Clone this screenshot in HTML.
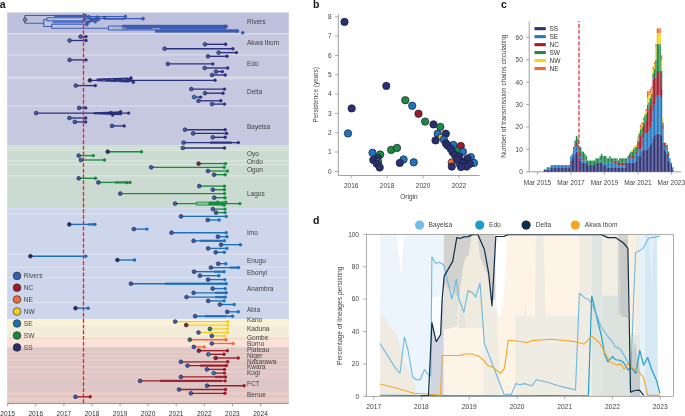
<!DOCTYPE html>
<html><head><meta charset="utf-8"><style>
html,body{margin:0;padding:0;background:#fff;width:685px;height:416px;overflow:hidden}
svg{display:block;will-change:transform;font-family:"Liberation Sans", sans-serif}
</style></head><body>
<svg width="685" height="416" viewBox="0 0 685 416">
<rect width="685" height="416" fill="#fff"/>
<rect x="7.2" y="12.5" width="281.6" height="21.10" fill="#bcc0dc"/>
<rect x="7.2" y="33.6" width="281.6" height="111.90" fill="#c6c8df"/>
<rect x="7.2" y="145.5" width="281.6" height="62.70" fill="#cbdbd1"/>
<rect x="7.2" y="208.2" width="281.6" height="111.10" fill="#cdd6ea"/>
<rect x="7.2" y="319.3" width="281.6" height="5.90" fill="#faf2d4"/>
<rect x="7.2" y="325.2" width="281.6" height="12.00" fill="#f2ecd9"/>
<rect x="7.2" y="337.2" width="281.6" height="10.80" fill="#f6dad0"/>
<rect x="7.2" y="348.0" width="281.6" height="55.20" fill="#ddc8c7"/>
<rect x="7.2" y="76.2" width="281.6" height="3.2" fill="#ffffff" opacity="0.28"/>
<rect x="7.2" y="33.3" width="281.6" height="1.2" fill="#ffffff" opacity="0.35"/>
<rect x="7.2" y="54.2" width="281.6" height="1.2" fill="#ffffff" opacity="0.35"/>
<rect x="7.2" y="105.4" width="281.6" height="1.2" fill="#ffffff" opacity="0.35"/>
<rect x="7.2" y="147.4" width="281.6" height="1.2" fill="#ffffff" opacity="0.35"/>
<rect x="7.2" y="149.7" width="281.6" height="1.2" fill="#ffffff" opacity="0.35"/>
<rect x="7.2" y="160.4" width="281.6" height="1.2" fill="#ffffff" opacity="0.35"/>
<rect x="7.2" y="163.9" width="281.6" height="1.2" fill="#ffffff" opacity="0.35"/>
<rect x="7.2" y="175.2" width="281.6" height="1.2" fill="#ffffff" opacity="0.35"/>
<rect x="7.2" y="213.2" width="281.6" height="1.2" fill="#ffffff" opacity="0.35"/>
<rect x="7.2" y="253.6" width="281.6" height="1.2" fill="#ffffff" opacity="0.35"/>
<rect x="7.2" y="266.5" width="281.6" height="1.2" fill="#ffffff" opacity="0.35"/>
<rect x="7.2" y="276.9" width="281.6" height="1.2" fill="#ffffff" opacity="0.35"/>
<rect x="7.2" y="301.8" width="281.6" height="1.2" fill="#ffffff" opacity="0.35"/>
<rect x="7.2" y="339.5" width="281.6" height="7" fill="#fae4da"/>
<rect x="7.2" y="347.6" width="281.6" height="0.9" fill="#d9c9c6"/>
<rect x="7.2" y="351.6" width="281.6" height="1.4" fill="#ebcdc8"/>
<rect x="7.2" y="355.2" width="281.6" height="1.7" fill="#ebcdc8"/>
<rect x="7.2" y="359.4" width="281.6" height="1.6" fill="#ebcdc8"/>
<rect x="7.2" y="366.0" width="281.6" height="1.8" fill="#ebcdc8"/>
<rect x="7.2" y="371.1" width="281.6" height="1.7" fill="#ebcdc8"/>
<rect x="7.2" y="375.4" width="281.6" height="1.2" fill="#ebcdc8"/>
<rect x="7.2" y="392.2" width="281.6" height="2.6" fill="#ebcdc8"/>
<rect x="7.2" y="397.5" width="281.6" height="3.8" fill="#ebcdc8"/>
<g stroke="#3d5db5" stroke-width="1.1" fill="none">
<path d="M24.8 15.5V23.2M24.8 15.5H86M24.8 23.2H43.7M43.7 19.5V26.5M43.7 19.5H46.8M46.8 17.7V20.8M46.8 17.7H86M46.8 20.8H86M43.7 26.5H51.6M51.6 24.3V28.2M51.6 24.3H86M51.6 28.2H108.5M108.5 26V30M108.5 26H122M108.5 30H155"/>
<path d="M86 16.6H125.3M86 18.6H143"/>
<path d="M104.8 16.6V19.2H125"/>
</g>
<rect x="54.2" y="14.9" width="30" height="2.3" fill="#3d5db5"/>
<rect x="52.5" y="20.3" width="31" height="3.1" fill="#5676c4"/>
<rect x="122" y="24.8" width="104" height="4.6" fill="#3d5db5"/>
<rect x="155" y="29.3" width="82.4" height="3.3" fill="#3d5db5"/>
<rect x="112" y="27.6" width="14" height="1" fill="#9aaad8"/>
<rect x="152" y="28.2" width="8" height="1" fill="#9aaad8"/>
<circle cx="85.2" cy="15.6" r="1.7" fill="#3d5db5" stroke="#2c3f86" stroke-width="0.4"/>
<circle cx="89" cy="17" r="1.7" fill="#3d5db5" stroke="#2c3f86" stroke-width="0.4"/>
<circle cx="87.6" cy="22.3" r="1.8" fill="#3d5db5" stroke="#2c3f86" stroke-width="0.4"/>
<circle cx="86.7" cy="24.3" r="1.7" fill="#3d5db5" stroke="#2c3f86" stroke-width="0.4"/>
<circle cx="92.5" cy="19.6" r="1.8" fill="#3d5db5" stroke="#2c3f86" stroke-width="0.4"/>
<circle cx="95.2" cy="21.4" r="1.8" fill="#3d5db5" stroke="#2c3f86" stroke-width="0.4"/>
<circle cx="97.2" cy="17.6" r="1.8" fill="#3d5db5" stroke="#2c3f86" stroke-width="0.4"/>
<circle cx="98.1" cy="19.4" r="1.7" fill="#3d5db5" stroke="#2c3f86" stroke-width="0.4"/>
<circle cx="90.5" cy="20.8" r="1.6" fill="#3d5db5" stroke="#2c3f86" stroke-width="0.4"/>
<circle cx="84.5" cy="19.5" r="1.5" fill="#3d5db5" stroke="#2c3f86" stroke-width="0.4"/>
<circle cx="104.8" cy="17.6" r="1.3" fill="#3d5db5" stroke="#2c3f86" stroke-width="0.4"/>
<circle cx="125.3" cy="16.6" r="1.5" fill="#3d5db5" stroke="#2c3f86" stroke-width="0.4"/>
<circle cx="143" cy="18.7" r="1.6" fill="#3d5db5" stroke="#2c3f86" stroke-width="0.4"/>
<circle cx="226" cy="26.5" r="1.7" fill="#3d5db5" stroke="#2c3f86" stroke-width="0.4"/>
<circle cx="237.4" cy="31" r="1.6" fill="#3d5db5" stroke="#2c3f86" stroke-width="0.4"/>
<circle cx="242.7" cy="32.8" r="1.5" fill="#3d5db5" stroke="#2c3f86" stroke-width="0.4"/>
<circle cx="25.1" cy="19.7" r="1.8" fill="#8a8a8a" stroke="#222" stroke-width="0.6"/>
<line x1="80.6" y1="36.6" x2="86" y2="36.6" stroke="#2b3080" stroke-width="1.35"/>
<line x1="69.6" y1="40.5" x2="86" y2="40.5" stroke="#2b3080" stroke-width="1.35"/>
<line x1="205" y1="44.3" x2="225.6" y2="44.3" stroke="#2b3080" stroke-width="1.35"/>
<line x1="164.6" y1="48.7" x2="232.9" y2="48.7" stroke="#2b3080" stroke-width="1.35"/>
<line x1="218.6" y1="52.6" x2="236.4" y2="52.6" stroke="#2b3080" stroke-width="1.35"/>
<line x1="208" y1="56.3" x2="227" y2="56.3" stroke="#2b3080" stroke-width="1.35"/>
<line x1="69.6" y1="59.9" x2="86" y2="59.9" stroke="#2b3080" stroke-width="1.35"/>
<line x1="167.8" y1="63.9" x2="212.8" y2="63.9" stroke="#2b3080" stroke-width="1.35"/>
<line x1="204.7" y1="68" x2="227.7" y2="68" stroke="#2b3080" stroke-width="1.35"/>
<line x1="216" y1="71.6" x2="222.3" y2="71.6" stroke="#2b3080" stroke-width="1.35"/>
<line x1="212" y1="75" x2="225.2" y2="75" stroke="#2b3080" stroke-width="1.35"/>
<line x1="89.9" y1="80.3" x2="215" y2="80.3" stroke="#2b3080" stroke-width="1.35"/>
<line x1="75.8" y1="85.6" x2="95.3" y2="85.6" stroke="#2b3080" stroke-width="1.35"/>
<line x1="191.3" y1="89.1" x2="224.5" y2="89.1" stroke="#2b3080" stroke-width="1.35"/>
<line x1="205" y1="93.2" x2="223" y2="93.2" stroke="#2b3080" stroke-width="1.35"/>
<line x1="194.1" y1="97.1" x2="200.7" y2="97.1" stroke="#2b3080" stroke-width="1.35"/>
<line x1="198.5" y1="100.8" x2="220.8" y2="100.8" stroke="#2b3080" stroke-width="1.35"/>
<line x1="212" y1="104.1" x2="224.5" y2="104.1" stroke="#2b3080" stroke-width="1.35"/>
<line x1="79.2" y1="107.9" x2="85.7" y2="107.9" stroke="#2b3080" stroke-width="1.35"/>
<line x1="36.1" y1="113.1" x2="128.6" y2="113.1" stroke="#2b3080" stroke-width="1.35"/>
<line x1="69.4" y1="118" x2="85.7" y2="118" stroke="#2b3080" stroke-width="1.35"/>
<line x1="74.8" y1="121.9" x2="85.7" y2="121.9" stroke="#2b3080" stroke-width="1.35"/>
<line x1="112" y1="125.9" x2="124.2" y2="125.9" stroke="#2b3080" stroke-width="1.35"/>
<line x1="185" y1="129.7" x2="225.2" y2="129.7" stroke="#2b3080" stroke-width="1.35"/>
<line x1="193.1" y1="133.4" x2="226.6" y2="133.4" stroke="#2b3080" stroke-width="1.35"/>
<line x1="212.8" y1="137.3" x2="225.2" y2="137.3" stroke="#2b3080" stroke-width="1.35"/>
<line x1="183.6" y1="142.6" x2="238.3" y2="142.6" stroke="#2b3080" stroke-width="1.35"/>
<rect x="210" y="141.45" width="22" height="2.3" fill="#2b3080" opacity="0.85"/>
<line x1="182.8" y1="148" x2="224.5" y2="148" stroke="#2b3080" stroke-width="1.35"/>
<line x1="107.7" y1="151.7" x2="141.5" y2="151.7" stroke="#1a8a40" stroke-width="1.35"/>
<line x1="78.7" y1="155.6" x2="93.3" y2="155.6" stroke="#1a8a40" stroke-width="1.35"/>
<line x1="80.9" y1="160" x2="104.5" y2="160" stroke="#1a8a40" stroke-width="1.35"/>
<line x1="198.6" y1="163.6" x2="225.6" y2="163.6" stroke="#1a8a40" stroke-width="1.35"/>
<line x1="151.2" y1="167.3" x2="224.2" y2="167.3" stroke="#1a8a40" stroke-width="1.35"/>
<line x1="208" y1="171" x2="227.4" y2="171" stroke="#1a8a40" stroke-width="1.35"/>
<line x1="214" y1="174.7" x2="225.2" y2="174.7" stroke="#1a8a40" stroke-width="1.35"/>
<line x1="78.7" y1="178.3" x2="95.5" y2="178.3" stroke="#1a8a40" stroke-width="1.35"/>
<line x1="98.4" y1="182.4" x2="130" y2="182.4" stroke="#1a8a40" stroke-width="1.35"/>
<rect x="115" y="181.25" width="13" height="2.3" fill="#1a8a40" opacity="0.85"/>
<line x1="199.3" y1="186.1" x2="224.5" y2="186.1" stroke="#1a8a40" stroke-width="1.35"/>
<line x1="212.8" y1="189.7" x2="224.5" y2="189.7" stroke="#1a8a40" stroke-width="1.35"/>
<line x1="120.3" y1="193.6" x2="224.5" y2="193.6" stroke="#1a8a40" stroke-width="1.35"/>
<line x1="214.2" y1="197.7" x2="225" y2="197.7" stroke="#1a8a40" stroke-width="1.35"/>
<line x1="175.1" y1="203.6" x2="239.8" y2="203.6" stroke="#1a8a40" stroke-width="1.35"/>
<line x1="212.8" y1="209.1" x2="225" y2="209.1" stroke="#1a8a40" stroke-width="1.35"/>
<line x1="216" y1="212.6" x2="225" y2="212.6" stroke="#1a8a40" stroke-width="1.35"/>
<line x1="181" y1="216.4" x2="226.2" y2="216.4" stroke="#1b70b8" stroke-width="1.35"/>
<line x1="207.7" y1="220" x2="219.2" y2="220" stroke="#1b70b8" stroke-width="1.35"/>
<line x1="69.3" y1="224.4" x2="94.9" y2="224.4" stroke="#1b70b8" stroke-width="1.35"/>
<rect x="88" y="223.25" width="7" height="2.3" fill="#1b70b8" opacity="0.85"/>
<line x1="133.8" y1="229.1" x2="146.9" y2="229.1" stroke="#1b70b8" stroke-width="1.35"/>
<line x1="171.5" y1="232.7" x2="226.2" y2="232.7" stroke="#1b70b8" stroke-width="1.35"/>
<line x1="217.9" y1="236.7" x2="226.9" y2="236.7" stroke="#1b70b8" stroke-width="1.35"/>
<line x1="193.6" y1="240.8" x2="224.3" y2="240.8" stroke="#1b70b8" stroke-width="1.35"/>
<rect x="200" y="239.65" width="22" height="2.3" fill="#1b70b8" opacity="0.85"/>
<line x1="221.1" y1="244.7" x2="240.4" y2="244.7" stroke="#1b70b8" stroke-width="1.35"/>
<line x1="208.2" y1="248.4" x2="226.9" y2="248.4" stroke="#1b70b8" stroke-width="1.35"/>
<line x1="215.7" y1="252.3" x2="224.3" y2="252.3" stroke="#1b70b8" stroke-width="1.35"/>
<line x1="30.4" y1="256.2" x2="85.8" y2="256.2" stroke="#1b70b8" stroke-width="1.35"/>
<line x1="117.4" y1="260" x2="134.5" y2="260" stroke="#1b70b8" stroke-width="1.35"/>
<line x1="218.2" y1="263.7" x2="225.8" y2="263.7" stroke="#1b70b8" stroke-width="1.35"/>
<line x1="210.9" y1="267.6" x2="238.6" y2="267.6" stroke="#1b70b8" stroke-width="1.35"/>
<rect x="230" y="266.45" width="8" height="2.3" fill="#1b70b8" opacity="0.85"/>
<line x1="194.1" y1="271.7" x2="224" y2="271.7" stroke="#1b70b8" stroke-width="1.35"/>
<rect x="214" y="270.55" width="8" height="2.3" fill="#1b70b8" opacity="0.85"/>
<line x1="199.9" y1="275.7" x2="218.9" y2="275.7" stroke="#1b70b8" stroke-width="1.35"/>
<line x1="208" y1="279.6" x2="224.7" y2="279.6" stroke="#1b70b8" stroke-width="1.35"/>
<line x1="130.9" y1="283.7" x2="226.2" y2="283.7" stroke="#1b70b8" stroke-width="1.35"/>
<rect x="165" y="282.55" width="61" height="2.3" fill="#1b70b8" opacity="0.85"/>
<line x1="212.6" y1="288.6" x2="225.2" y2="288.6" stroke="#1b70b8" stroke-width="1.35"/>
<line x1="193.6" y1="292.8" x2="226.2" y2="292.8" stroke="#1b70b8" stroke-width="1.35"/>
<rect x="215" y="291.65" width="10" height="2.3" fill="#1b70b8" opacity="0.85"/>
<line x1="186.5" y1="297.1" x2="225.2" y2="297.1" stroke="#1b70b8" stroke-width="1.35"/>
<rect x="215" y="295.95" width="10" height="2.3" fill="#1b70b8" opacity="0.85"/>
<line x1="208.2" y1="300.9" x2="224" y2="300.9" stroke="#1b70b8" stroke-width="1.35"/>
<line x1="219.9" y1="304.5" x2="234.2" y2="304.5" stroke="#1b70b8" stroke-width="1.35"/>
<line x1="75.5" y1="308.2" x2="88.2" y2="308.2" stroke="#1b70b8" stroke-width="1.35"/>
<line x1="227.2" y1="311.8" x2="238.3" y2="311.8" stroke="#1b70b8" stroke-width="1.35"/>
<line x1="195.1" y1="316.2" x2="232.5" y2="316.2" stroke="#1b70b8" stroke-width="1.35"/>
<rect x="205" y="315.05" width="21" height="2.3" fill="#1b70b8" opacity="0.85"/>
<line x1="175.2" y1="321.6" x2="227.9" y2="321.6" stroke="#f4cf1c" stroke-width="1.35"/>
<line x1="186.2" y1="325.1" x2="227.4" y2="325.1" stroke="#f4cf1c" stroke-width="1.35"/>
<line x1="209.9" y1="328.9" x2="227.4" y2="328.9" stroke="#f4cf1c" stroke-width="1.35"/>
<line x1="198.5" y1="332.5" x2="227.4" y2="332.5" stroke="#f4cf1c" stroke-width="1.35"/>
<line x1="211.8" y1="335.9" x2="224.5" y2="335.9" stroke="#f4cf1c" stroke-width="1.35"/>
<line x1="189.8" y1="339.7" x2="226" y2="339.7" stroke="#ef6d37" stroke-width="1.35"/>
<line x1="211.8" y1="343.5" x2="233.1" y2="343.5" stroke="#ef6d37" stroke-width="1.35"/>
<line x1="193.8" y1="346.9" x2="204.2" y2="346.9" stroke="#ef6d37" stroke-width="1.35"/>
<line x1="198.9" y1="350.7" x2="227.4" y2="350.7" stroke="#9c1c2c" stroke-width="1.35"/>
<line x1="208.4" y1="354.3" x2="224" y2="354.3" stroke="#9c1c2c" stroke-width="1.35"/>
<line x1="215.6" y1="358" x2="238.2" y2="358" stroke="#9c1c2c" stroke-width="1.35"/>
<line x1="180.9" y1="361.8" x2="227.7" y2="361.8" stroke="#9c1c2c" stroke-width="1.35"/>
<line x1="187.5" y1="365.6" x2="226.4" y2="365.6" stroke="#9c1c2c" stroke-width="1.35"/>
<rect x="200" y="364.45" width="26" height="2.3" fill="#9c1c2c" opacity="0.85"/>
<line x1="206.9" y1="369.4" x2="224.5" y2="369.4" stroke="#9c1c2c" stroke-width="1.35"/>
<line x1="213.7" y1="373.1" x2="224.5" y2="373.1" stroke="#9c1c2c" stroke-width="1.35"/>
<line x1="180.9" y1="376.9" x2="225.5" y2="376.9" stroke="#9c1c2c" stroke-width="1.35"/>
<rect x="215" y="375.75" width="10" height="2.3" fill="#9c1c2c" opacity="0.85"/>
<line x1="140.1" y1="380.9" x2="225.1" y2="380.9" stroke="#9c1c2c" stroke-width="1.35"/>
<rect x="160" y="379.75" width="62" height="2.3" fill="#9c1c2c" opacity="0.85"/>
<line x1="207.1" y1="385.7" x2="244.1" y2="385.7" stroke="#9c1c2c" stroke-width="1.35"/>
<line x1="179" y1="389.5" x2="225.5" y2="389.5" stroke="#9c1c2c" stroke-width="1.35"/>
<line x1="190.9" y1="393.3" x2="224.9" y2="393.3" stroke="#9c1c2c" stroke-width="1.35"/>
<line x1="75.5" y1="396.8" x2="90.2" y2="396.8" stroke="#9c1c2c" stroke-width="1.35"/>
<polygon points="96.5,78.4 128,77.6 134,80.8 128,82.5 96.5,81.2" fill="#2b3080"/>
<polygon points="93.7,112.2 122,111.3 122,115.2 93.7,114.3" fill="#2b3080"/>
<ellipse cx="104" cy="80.6" rx="1.6" ry="0.5" fill="#5b63a6"/>
<ellipse cx="112" cy="79.6" rx="1.6" ry="0.5" fill="#5b63a6"/>
<ellipse cx="118" cy="81.6" rx="1.6" ry="0.5" fill="#5b63a6"/>
<ellipse cx="124" cy="79.2" rx="1.6" ry="0.5" fill="#5b63a6"/>
<rect x="196.3" y="202.1" width="12.6" height="3" fill="#8cc79c" stroke="#1a8a40" stroke-width="0.8"/>
<polygon points="208.9,201.6 226,201.4 226,205.8 208.9,205.6" fill="#1a8a40"/>
<circle cx="217.6" cy="201.9" r="1.4" fill="#1a8a40"/>
<circle cx="224" cy="204.6" r="2.2" fill="#1a8a40"/>
<circle cx="225.8" cy="202.2" r="1.6" fill="#1a8a40"/>
<circle cx="126.9" cy="182.7" r="1.6" fill="#1a8a40"/>
<circle cx="131" cy="77.9" r="1.5" fill="#2b3080" stroke="#1d1f55" stroke-width="0.4"/>
<circle cx="133.3" cy="82" r="1.6" fill="#2b3080" stroke="#1d1f55" stroke-width="0.4"/>
<circle cx="110.8" cy="112.5" r="1.3" fill="#2b3080" stroke="#1d1f55" stroke-width="0.4"/>
<circle cx="112.7" cy="115.2" r="1.3" fill="#2b3080" stroke="#1d1f55" stroke-width="0.4"/>
<circle cx="120.6" cy="111.6" r="1.3" fill="#2b3080" stroke="#1d1f55" stroke-width="0.4"/>
<circle cx="86" cy="36.6" r="1.7" fill="#2b3080"/>
<circle cx="80.6" cy="36.6" r="1.85" fill="#3f60b5" stroke="#26264a" stroke-width="0.75"/>
<circle cx="86" cy="40.5" r="1.7" fill="#2b3080"/>
<circle cx="69.6" cy="40.5" r="1.85" fill="#3f60b5" stroke="#26264a" stroke-width="0.75"/>
<circle cx="225.6" cy="44.3" r="1.7" fill="#2b3080"/>
<circle cx="205" cy="44.3" r="1.85" fill="#3f60b5" stroke="#26264a" stroke-width="0.75"/>
<circle cx="232.9" cy="48.7" r="1.7" fill="#2b3080"/>
<circle cx="164.6" cy="48.7" r="1.85" fill="#3f60b5" stroke="#26264a" stroke-width="0.75"/>
<circle cx="236.4" cy="52.6" r="1.7" fill="#2b3080"/>
<circle cx="218.6" cy="52.6" r="1.85" fill="#3f60b5" stroke="#26264a" stroke-width="0.75"/>
<circle cx="227" cy="56.3" r="1.7" fill="#2b3080"/>
<circle cx="208" cy="56.3" r="1.85" fill="#3f60b5" stroke="#26264a" stroke-width="0.75"/>
<circle cx="86" cy="59.9" r="1.7" fill="#2b3080"/>
<circle cx="69.6" cy="59.9" r="1.85" fill="#3f60b5" stroke="#26264a" stroke-width="0.75"/>
<circle cx="212.8" cy="63.9" r="1.7" fill="#2b3080"/>
<circle cx="167.8" cy="63.9" r="1.85" fill="#3f60b5" stroke="#26264a" stroke-width="0.75"/>
<circle cx="227.7" cy="68" r="1.7" fill="#2b3080"/>
<circle cx="204.7" cy="68" r="1.85" fill="#3f60b5" stroke="#26264a" stroke-width="0.75"/>
<circle cx="222.3" cy="71.6" r="1.7" fill="#2b3080"/>
<circle cx="216" cy="71.6" r="1.85" fill="#3f60b5" stroke="#26264a" stroke-width="0.75"/>
<circle cx="225.2" cy="75" r="1.7" fill="#2b3080"/>
<circle cx="212" cy="75" r="1.85" fill="#3f60b5" stroke="#26264a" stroke-width="0.75"/>
<circle cx="215" cy="80.3" r="1.7" fill="#2b3080"/>
<circle cx="89.9" cy="80.3" r="1.85" fill="#2a2d6c" stroke="#26264a" stroke-width="0.75"/>
<circle cx="95.3" cy="85.6" r="1.7" fill="#2b3080"/>
<circle cx="75.8" cy="85.6" r="1.85" fill="#3f60b5" stroke="#26264a" stroke-width="0.75"/>
<circle cx="224.5" cy="89.1" r="1.7" fill="#2b3080"/>
<circle cx="191.3" cy="89.1" r="1.85" fill="#3f60b5" stroke="#26264a" stroke-width="0.75"/>
<circle cx="223" cy="93.2" r="1.7" fill="#2b3080"/>
<circle cx="205" cy="93.2" r="1.85" fill="#3f60b5" stroke="#26264a" stroke-width="0.75"/>
<circle cx="200.7" cy="97.1" r="1.7" fill="#2b3080"/>
<circle cx="194.1" cy="97.1" r="1.85" fill="#1b8ad0" stroke="#26264a" stroke-width="0.75"/>
<circle cx="220.8" cy="100.8" r="1.7" fill="#2b3080"/>
<circle cx="198.5" cy="100.8" r="1.85" fill="#3f60b5" stroke="#26264a" stroke-width="0.75"/>
<circle cx="224.5" cy="104.1" r="1.7" fill="#2b3080"/>
<circle cx="212" cy="104.1" r="1.85" fill="#3f60b5" stroke="#26264a" stroke-width="0.75"/>
<circle cx="85.7" cy="107.9" r="1.7" fill="#2b3080"/>
<circle cx="79.2" cy="107.9" r="1.85" fill="#3f60b5" stroke="#26264a" stroke-width="0.75"/>
<circle cx="128.6" cy="113.1" r="1.7" fill="#2b3080"/>
<circle cx="36.1" cy="113.1" r="1.85" fill="#3f60b5" stroke="#26264a" stroke-width="0.75"/>
<circle cx="85.7" cy="118" r="1.7" fill="#2b3080"/>
<circle cx="69.4" cy="118" r="1.85" fill="#3f60b5" stroke="#26264a" stroke-width="0.75"/>
<circle cx="85.7" cy="121.9" r="1.7" fill="#2b3080"/>
<circle cx="74.8" cy="121.9" r="1.85" fill="#3f60b5" stroke="#26264a" stroke-width="0.75"/>
<circle cx="124.2" cy="125.9" r="1.7" fill="#2b3080"/>
<circle cx="112" cy="125.9" r="1.85" fill="#3f60b5" stroke="#26264a" stroke-width="0.75"/>
<circle cx="225.2" cy="129.7" r="1.7" fill="#2b3080"/>
<circle cx="185" cy="129.7" r="1.85" fill="#3f60b5" stroke="#26264a" stroke-width="0.75"/>
<circle cx="226.6" cy="133.4" r="1.7" fill="#2b3080"/>
<circle cx="193.1" cy="133.4" r="1.85" fill="#3f60b5" stroke="#26264a" stroke-width="0.75"/>
<circle cx="225.2" cy="137.3" r="1.7" fill="#2b3080"/>
<circle cx="212.8" cy="137.3" r="1.85" fill="#3f60b5" stroke="#26264a" stroke-width="0.75"/>
<circle cx="238.3" cy="142.6" r="1.7" fill="#2b3080"/>
<circle cx="183.6" cy="142.6" r="1.85" fill="#3f60b5" stroke="#26264a" stroke-width="0.75"/>
<circle cx="224.5" cy="148" r="1.7" fill="#2b3080"/>
<circle cx="182.8" cy="148" r="1.85" fill="#3f60b5" stroke="#26264a" stroke-width="0.75"/>
<circle cx="141.5" cy="151.7" r="1.7" fill="#1a8a40"/>
<circle cx="107.7" cy="151.7" r="1.85" fill="#2a2d6c" stroke="#26264a" stroke-width="0.75"/>
<circle cx="93.3" cy="155.6" r="1.7" fill="#1a8a40"/>
<circle cx="78.7" cy="155.6" r="1.85" fill="#3f60b5" stroke="#26264a" stroke-width="0.75"/>
<circle cx="104.5" cy="160" r="1.7" fill="#1a8a40"/>
<circle cx="80.9" cy="160" r="1.85" fill="#3f60b5" stroke="#26264a" stroke-width="0.75"/>
<circle cx="225.6" cy="163.6" r="1.7" fill="#1a8a40"/>
<circle cx="198.6" cy="163.6" r="1.85" fill="#9c1c2c" stroke="#26264a" stroke-width="0.75"/>
<circle cx="224.2" cy="167.3" r="1.7" fill="#1a8a40"/>
<circle cx="151.2" cy="167.3" r="1.85" fill="#3f60b5" stroke="#26264a" stroke-width="0.75"/>
<circle cx="227.4" cy="171" r="1.7" fill="#1a8a40"/>
<circle cx="208" cy="171" r="1.85" fill="#3f60b5" stroke="#26264a" stroke-width="0.75"/>
<circle cx="225.2" cy="174.7" r="1.7" fill="#1a8a40"/>
<circle cx="214" cy="174.7" r="1.85" fill="#3f60b5" stroke="#26264a" stroke-width="0.75"/>
<circle cx="95.5" cy="178.3" r="1.7" fill="#1a8a40"/>
<circle cx="78.7" cy="178.3" r="1.85" fill="#3f60b5" stroke="#26264a" stroke-width="0.75"/>
<circle cx="130" cy="182.4" r="1.7" fill="#1a8a40"/>
<circle cx="98.4" cy="182.4" r="1.85" fill="#3f60b5" stroke="#26264a" stroke-width="0.75"/>
<circle cx="224.5" cy="186.1" r="1.7" fill="#1a8a40"/>
<circle cx="199.3" cy="186.1" r="1.85" fill="#3f60b5" stroke="#26264a" stroke-width="0.75"/>
<circle cx="224.5" cy="189.7" r="1.7" fill="#1a8a40"/>
<circle cx="212.8" cy="189.7" r="1.85" fill="#3f60b5" stroke="#26264a" stroke-width="0.75"/>
<circle cx="224.5" cy="193.6" r="1.7" fill="#1a8a40"/>
<circle cx="120.3" cy="193.6" r="1.85" fill="#3f60b5" stroke="#26264a" stroke-width="0.75"/>
<circle cx="225" cy="197.7" r="1.7" fill="#1a8a40"/>
<circle cx="214.2" cy="197.7" r="1.85" fill="#3f60b5" stroke="#26264a" stroke-width="0.75"/>
<circle cx="239.8" cy="203.6" r="1.7" fill="#1a8a40"/>
<circle cx="175.1" cy="203.6" r="1.85" fill="#3f60b5" stroke="#26264a" stroke-width="0.75"/>
<circle cx="225" cy="209.1" r="1.7" fill="#1a8a40"/>
<circle cx="212.8" cy="209.1" r="1.85" fill="#3f60b5" stroke="#26264a" stroke-width="0.75"/>
<circle cx="225" cy="212.6" r="1.7" fill="#1a8a40"/>
<circle cx="216" cy="212.6" r="1.85" fill="#3f60b5" stroke="#26264a" stroke-width="0.75"/>
<circle cx="226.2" cy="216.4" r="1.7" fill="#1b70b8"/>
<circle cx="181" cy="216.4" r="1.85" fill="#3f60b5" stroke="#26264a" stroke-width="0.75"/>
<circle cx="219.2" cy="220" r="1.7" fill="#1b70b8"/>
<circle cx="207.7" cy="220" r="1.85" fill="#3f60b5" stroke="#26264a" stroke-width="0.75"/>
<circle cx="94.9" cy="224.4" r="1.7" fill="#1b70b8"/>
<circle cx="69.3" cy="224.4" r="1.85" fill="#2a2d6c" stroke="#26264a" stroke-width="0.75"/>
<circle cx="146.9" cy="229.1" r="1.7" fill="#1b70b8"/>
<circle cx="133.8" cy="229.1" r="1.85" fill="#3f60b5" stroke="#26264a" stroke-width="0.75"/>
<circle cx="226.2" cy="232.7" r="1.7" fill="#1b70b8"/>
<circle cx="171.5" cy="232.7" r="1.85" fill="#3f60b5" stroke="#26264a" stroke-width="0.75"/>
<circle cx="226.9" cy="236.7" r="1.7" fill="#1b70b8"/>
<circle cx="217.9" cy="236.7" r="1.85" fill="#3f60b5" stroke="#26264a" stroke-width="0.75"/>
<circle cx="224.3" cy="240.8" r="1.7" fill="#1b70b8"/>
<circle cx="193.6" cy="240.8" r="1.85" fill="#3f60b5" stroke="#26264a" stroke-width="0.75"/>
<circle cx="240.4" cy="244.7" r="1.7" fill="#1b70b8"/>
<circle cx="221.1" cy="244.7" r="1.85" fill="#3f60b5" stroke="#26264a" stroke-width="0.75"/>
<circle cx="226.9" cy="248.4" r="1.7" fill="#1b70b8"/>
<circle cx="208.2" cy="248.4" r="1.85" fill="#3f60b5" stroke="#26264a" stroke-width="0.75"/>
<circle cx="224.3" cy="252.3" r="1.7" fill="#1b70b8"/>
<circle cx="215.7" cy="252.3" r="1.85" fill="#3f60b5" stroke="#26264a" stroke-width="0.75"/>
<circle cx="85.8" cy="256.2" r="1.7" fill="#1b70b8"/>
<circle cx="30.4" cy="256.2" r="1.85" fill="#2a2d6c" stroke="#26264a" stroke-width="0.75"/>
<circle cx="134.5" cy="260" r="1.7" fill="#1b70b8"/>
<circle cx="117.4" cy="260" r="1.85" fill="#2a2d6c" stroke="#26264a" stroke-width="0.75"/>
<circle cx="225.8" cy="263.7" r="1.7" fill="#1b70b8"/>
<circle cx="218.2" cy="263.7" r="1.85" fill="#3f60b5" stroke="#26264a" stroke-width="0.75"/>
<circle cx="238.6" cy="267.6" r="1.7" fill="#1b70b8"/>
<circle cx="210.9" cy="267.6" r="1.85" fill="#3f60b5" stroke="#26264a" stroke-width="0.75"/>
<circle cx="224" cy="271.7" r="1.7" fill="#1b70b8"/>
<circle cx="194.1" cy="271.7" r="1.85" fill="#3f60b5" stroke="#26264a" stroke-width="0.75"/>
<circle cx="218.9" cy="275.7" r="1.7" fill="#1b70b8"/>
<circle cx="199.9" cy="275.7" r="1.85" fill="#3f60b5" stroke="#26264a" stroke-width="0.75"/>
<circle cx="224.7" cy="279.6" r="1.7" fill="#1b70b8"/>
<circle cx="208" cy="279.6" r="1.85" fill="#3f60b5" stroke="#26264a" stroke-width="0.75"/>
<circle cx="226.2" cy="283.7" r="1.7" fill="#1b70b8"/>
<circle cx="130.9" cy="283.7" r="1.85" fill="#3f60b5" stroke="#26264a" stroke-width="0.75"/>
<circle cx="225.2" cy="288.6" r="1.7" fill="#1b70b8"/>
<circle cx="212.6" cy="288.6" r="1.85" fill="#3f60b5" stroke="#26264a" stroke-width="0.75"/>
<circle cx="226.2" cy="292.8" r="1.7" fill="#1b70b8"/>
<circle cx="193.6" cy="292.8" r="1.85" fill="#3f60b5" stroke="#26264a" stroke-width="0.75"/>
<circle cx="225.2" cy="297.1" r="1.7" fill="#1b70b8"/>
<circle cx="186.5" cy="297.1" r="1.85" fill="#3f60b5" stroke="#26264a" stroke-width="0.75"/>
<circle cx="224" cy="300.9" r="1.7" fill="#1b70b8"/>
<circle cx="208.2" cy="300.9" r="1.85" fill="#3f60b5" stroke="#26264a" stroke-width="0.75"/>
<circle cx="234.2" cy="304.5" r="1.7" fill="#1b70b8"/>
<circle cx="219.9" cy="304.5" r="1.85" fill="#3f60b5" stroke="#26264a" stroke-width="0.75"/>
<circle cx="88.2" cy="308.2" r="1.7" fill="#1b70b8"/>
<circle cx="75.5" cy="308.2" r="1.85" fill="#2a2d6c" stroke="#26264a" stroke-width="0.75"/>
<circle cx="238.3" cy="311.8" r="1.7" fill="#1b70b8"/>
<circle cx="227.2" cy="311.8" r="1.85" fill="#3f60b5" stroke="#26264a" stroke-width="0.75"/>
<circle cx="232.5" cy="316.2" r="1.7" fill="#1b70b8"/>
<circle cx="195.1" cy="316.2" r="1.85" fill="#3f60b5" stroke="#26264a" stroke-width="0.75"/>
<circle cx="227.9" cy="321.6" r="1.7" fill="#f4cf1c"/>
<circle cx="175.2" cy="321.6" r="1.85" fill="#3f60b5" stroke="#26264a" stroke-width="0.75"/>
<circle cx="227.4" cy="325.1" r="1.7" fill="#f4cf1c"/>
<circle cx="186.2" cy="325.1" r="1.85" fill="#9c1c2c" stroke="#26264a" stroke-width="0.75"/>
<circle cx="227.4" cy="328.9" r="1.7" fill="#f4cf1c"/>
<circle cx="209.9" cy="328.9" r="1.85" fill="#1a8a40" stroke="#26264a" stroke-width="0.75"/>
<circle cx="227.4" cy="332.5" r="1.7" fill="#f4cf1c"/>
<circle cx="198.5" cy="332.5" r="1.85" fill="#3f60b5" stroke="#26264a" stroke-width="0.75"/>
<circle cx="224.5" cy="335.9" r="1.7" fill="#f4cf1c"/>
<circle cx="211.8" cy="335.9" r="1.85" fill="#3f60b5" stroke="#26264a" stroke-width="0.75"/>
<circle cx="226" cy="339.7" r="1.7" fill="#ef6d37"/>
<circle cx="189.8" cy="339.7" r="1.85" fill="#1a8a40" stroke="#26264a" stroke-width="0.75"/>
<circle cx="233.1" cy="343.5" r="1.7" fill="#ef6d37"/>
<circle cx="211.8" cy="343.5" r="1.85" fill="#3f60b5" stroke="#26264a" stroke-width="0.75"/>
<circle cx="204.2" cy="346.9" r="1.7" fill="#ef6d37"/>
<circle cx="193.8" cy="346.9" r="1.85" fill="#3f60b5" stroke="#26264a" stroke-width="0.75"/>
<circle cx="227.4" cy="350.7" r="1.7" fill="#9c1c2c"/>
<circle cx="198.9" cy="350.7" r="1.85" fill="#9c1c2c" stroke="#26264a" stroke-width="0.75"/>
<circle cx="224" cy="354.3" r="1.7" fill="#9c1c2c"/>
<circle cx="208.4" cy="354.3" r="1.85" fill="#1b8ad0" stroke="#26264a" stroke-width="0.75"/>
<circle cx="238.2" cy="358" r="1.7" fill="#9c1c2c"/>
<circle cx="215.6" cy="358" r="1.85" fill="#9c1c2c" stroke="#26264a" stroke-width="0.75"/>
<circle cx="227.7" cy="361.8" r="1.7" fill="#9c1c2c"/>
<circle cx="180.9" cy="361.8" r="1.85" fill="#3f60b5" stroke="#26264a" stroke-width="0.75"/>
<circle cx="226.4" cy="365.6" r="1.7" fill="#9c1c2c"/>
<circle cx="187.5" cy="365.6" r="1.85" fill="#3f60b5" stroke="#26264a" stroke-width="0.75"/>
<circle cx="224.5" cy="369.4" r="1.7" fill="#9c1c2c"/>
<circle cx="206.9" cy="369.4" r="1.85" fill="#3f60b5" stroke="#26264a" stroke-width="0.75"/>
<circle cx="224.5" cy="373.1" r="1.7" fill="#9c1c2c"/>
<circle cx="213.7" cy="373.1" r="1.85" fill="#1b8ad0" stroke="#26264a" stroke-width="0.75"/>
<circle cx="225.5" cy="376.9" r="1.7" fill="#9c1c2c"/>
<circle cx="180.9" cy="376.9" r="1.85" fill="#3f60b5" stroke="#26264a" stroke-width="0.75"/>
<circle cx="225.1" cy="380.9" r="1.7" fill="#9c1c2c"/>
<circle cx="140.1" cy="380.9" r="1.85" fill="#3f60b5" stroke="#26264a" stroke-width="0.75"/>
<circle cx="244.1" cy="385.7" r="1.7" fill="#9c1c2c"/>
<circle cx="207.1" cy="385.7" r="1.85" fill="#3f60b5" stroke="#26264a" stroke-width="0.75"/>
<circle cx="225.5" cy="389.5" r="1.7" fill="#9c1c2c"/>
<circle cx="179" cy="389.5" r="1.85" fill="#3f60b5" stroke="#26264a" stroke-width="0.75"/>
<circle cx="224.9" cy="393.3" r="1.7" fill="#9c1c2c"/>
<circle cx="190.9" cy="393.3" r="1.85" fill="#3f60b5" stroke="#26264a" stroke-width="0.75"/>
<circle cx="90.2" cy="396.8" r="1.7" fill="#9c1c2c"/>
<circle cx="75.5" cy="396.8" r="1.85" fill="#3f60b5" stroke="#26264a" stroke-width="0.75"/>
<line x1="83.5" y1="12.5" x2="83.5" y2="403.2" stroke="#e8202e" stroke-width="1.3" stroke-dasharray="4.1,1.665" stroke-dashoffset="5.19"/>
<text x="247" y="24.1" font-size="6.5" fill="#404040">Rivers</text>
<text x="247" y="45.2" font-size="6.5" fill="#404040">Akwa Ibom</text>
<text x="247" y="66.1" font-size="6.5" fill="#404040">Edo</text>
<text x="247" y="93.5" font-size="6.5" fill="#404040">Delta</text>
<text x="247" y="129.0" font-size="6.5" fill="#404040">Bayelsa</text>
<text x="247" y="156.2" font-size="6.5" fill="#404040">Oyo</text>
<text x="247" y="164.2" font-size="6.5" fill="#404040">Ondo</text>
<text x="247" y="171.6" font-size="6.5" fill="#404040">Ogun</text>
<text x="247" y="195.9" font-size="6.5" fill="#404040">Lagos</text>
<text x="247" y="234.8" font-size="6.5" fill="#404040">Imo</text>
<text x="247" y="262.7" font-size="6.5" fill="#404040">Enugu</text>
<text x="247" y="274.8" font-size="6.5" fill="#404040">Ebonyi</text>
<text x="247" y="290.6" font-size="6.5" fill="#404040">Anambra</text>
<text x="247" y="311.9" font-size="6.5" fill="#404040">Abia</text>
<text x="247" y="321.6" font-size="6.5" fill="#404040">Kano</text>
<text x="247" y="331.3" font-size="6.5" fill="#404040">Kaduna</text>
<text x="247" y="339.6" font-size="6.5" fill="#404040">Gombe</text>
<text x="247" y="345.8" font-size="6.5" fill="#404040">Borno</text>
<text x="247" y="352.1" font-size="6.5" fill="#404040">Plateau</text>
<text x="247" y="357.7" font-size="6.5" fill="#404040">Niger</text>
<text x="247" y="363.8" font-size="6.5" fill="#404040">Nasarawa</text>
<text x="247" y="369.3" font-size="6.5" fill="#404040">Kwara</text>
<text x="247" y="375.1" font-size="6.5" fill="#404040">Kogi</text>
<text x="247" y="385.7" font-size="6.5" fill="#404040">FCT</text>
<text x="247" y="397.4" font-size="6.5" fill="#404040">Benue</text>
<circle cx="17" cy="275.9" r="3.85" fill="#3d5db5" stroke="#222" stroke-width="0.6"/>
<text x="23.8" y="278.3" font-size="6.6" fill="#444">Rivers</text>
<circle cx="17" cy="287.7" r="3.85" fill="#9c1c2c" stroke="#222" stroke-width="0.6"/>
<text x="23.8" y="290.1" font-size="6.6" fill="#444">NC</text>
<circle cx="17" cy="299.5" r="3.85" fill="#ef6d37" stroke="#222" stroke-width="0.6"/>
<text x="23.8" y="301.9" font-size="6.6" fill="#444">NE</text>
<circle cx="17" cy="311.5" r="3.85" fill="#f4cf1c" stroke="#222" stroke-width="0.6"/>
<text x="23.8" y="313.9" font-size="6.6" fill="#444">NW</text>
<circle cx="17" cy="323.5" r="3.85" fill="#1b70b8" stroke="#222" stroke-width="0.6"/>
<text x="23.8" y="325.9" font-size="6.6" fill="#444">SE</text>
<circle cx="17" cy="335.5" r="3.85" fill="#1a8a40" stroke="#222" stroke-width="0.6"/>
<text x="23.8" y="337.9" font-size="6.6" fill="#444">SW</text>
<circle cx="17" cy="347.4" r="3.85" fill="#2a2d6c" stroke="#222" stroke-width="0.6"/>
<text x="23.8" y="349.8" font-size="6.6" fill="#444">SS</text>
<line x1="7.2" y1="403.6" x2="288.8" y2="403.6" stroke="#666" stroke-width="0.7"/>
<line x1="7.7" y1="403.6" x2="7.7" y2="406.4" stroke="#666" stroke-width="0.6"/>
<text x="7.7" y="416.3" font-size="6.6" fill="#333" text-anchor="middle">2015</text>
<line x1="35.8" y1="403.6" x2="35.8" y2="406.4" stroke="#666" stroke-width="0.6"/>
<text x="35.8" y="416.3" font-size="6.6" fill="#333" text-anchor="middle">2016</text>
<line x1="63.9" y1="403.6" x2="63.9" y2="406.4" stroke="#666" stroke-width="0.6"/>
<text x="63.9" y="416.3" font-size="6.6" fill="#333" text-anchor="middle">2017</text>
<line x1="92.0" y1="403.6" x2="92.0" y2="406.4" stroke="#666" stroke-width="0.6"/>
<text x="92.0" y="416.3" font-size="6.6" fill="#333" text-anchor="middle">2018</text>
<line x1="120.1" y1="403.6" x2="120.1" y2="406.4" stroke="#666" stroke-width="0.6"/>
<text x="120.1" y="416.3" font-size="6.6" fill="#333" text-anchor="middle">2019</text>
<line x1="148.1" y1="403.6" x2="148.1" y2="406.4" stroke="#666" stroke-width="0.6"/>
<text x="148.1" y="416.3" font-size="6.6" fill="#333" text-anchor="middle">2020</text>
<line x1="176.2" y1="403.6" x2="176.2" y2="406.4" stroke="#666" stroke-width="0.6"/>
<text x="176.2" y="416.3" font-size="6.6" fill="#333" text-anchor="middle">2021</text>
<line x1="204.3" y1="403.6" x2="204.3" y2="406.4" stroke="#666" stroke-width="0.6"/>
<text x="204.3" y="416.3" font-size="6.6" fill="#333" text-anchor="middle">2022</text>
<line x1="232.4" y1="403.6" x2="232.4" y2="406.4" stroke="#666" stroke-width="0.6"/>
<text x="232.4" y="416.3" font-size="6.6" fill="#333" text-anchor="middle">2023</text>
<line x1="260.5" y1="403.6" x2="260.5" y2="406.4" stroke="#666" stroke-width="0.6"/>
<text x="260.5" y="416.3" font-size="6.6" fill="#333" text-anchor="middle">2024</text>
<text x="-0.3" y="8" font-size="10.5" font-weight="bold" fill="#161616">a</text>
<text x="313" y="8" font-size="10.5" font-weight="bold" fill="#161616">b</text>
<line x1="338.3" y1="14" x2="338.3" y2="175.5" stroke="#777" stroke-width="0.7"/>
<line x1="338.3" y1="175.5" x2="479.6" y2="175.5" stroke="#777" stroke-width="0.7"/>
<line x1="335" y1="171.3" x2="338.3" y2="171.3" stroke="#777" stroke-width="0.6"/>
<text x="331.5" y="173.6" font-size="6.5" fill="#444" text-anchor="end">0</text>
<line x1="335" y1="152.0" x2="338.3" y2="152.0" stroke="#777" stroke-width="0.6"/>
<text x="331.5" y="154.3" font-size="6.5" fill="#444" text-anchor="end">1</text>
<line x1="335" y1="132.7" x2="338.3" y2="132.7" stroke="#777" stroke-width="0.6"/>
<text x="331.5" y="135.0" font-size="6.5" fill="#444" text-anchor="end">2</text>
<line x1="335" y1="113.4" x2="338.3" y2="113.4" stroke="#777" stroke-width="0.6"/>
<text x="331.5" y="115.7" font-size="6.5" fill="#444" text-anchor="end">3</text>
<line x1="335" y1="94.1" x2="338.3" y2="94.1" stroke="#777" stroke-width="0.6"/>
<text x="331.5" y="96.4" font-size="6.5" fill="#444" text-anchor="end">4</text>
<line x1="335" y1="74.8" x2="338.3" y2="74.8" stroke="#777" stroke-width="0.6"/>
<text x="331.5" y="77.1" font-size="6.5" fill="#444" text-anchor="end">5</text>
<line x1="335" y1="55.4" x2="338.3" y2="55.4" stroke="#777" stroke-width="0.6"/>
<text x="331.5" y="57.7" font-size="6.5" fill="#444" text-anchor="end">6</text>
<line x1="335" y1="36.1" x2="338.3" y2="36.1" stroke="#777" stroke-width="0.6"/>
<text x="331.5" y="38.4" font-size="6.5" fill="#444" text-anchor="end">7</text>
<line x1="335" y1="16.8" x2="338.3" y2="16.8" stroke="#777" stroke-width="0.6"/>
<text x="331.5" y="19.1" font-size="6.5" fill="#444" text-anchor="end">8</text>
<line x1="351.2" y1="175.5" x2="351.2" y2="178.4" stroke="#777" stroke-width="0.6"/>
<text x="351.2" y="188" font-size="6.5" fill="#444" text-anchor="middle">2016</text>
<line x1="387.1" y1="175.5" x2="387.1" y2="178.4" stroke="#777" stroke-width="0.6"/>
<text x="387.1" y="188" font-size="6.5" fill="#444" text-anchor="middle">2018</text>
<line x1="423.1" y1="175.5" x2="423.1" y2="178.4" stroke="#777" stroke-width="0.6"/>
<text x="423.1" y="188" font-size="6.5" fill="#444" text-anchor="middle">2020</text>
<line x1="458.9" y1="175.5" x2="458.9" y2="178.4" stroke="#777" stroke-width="0.6"/>
<text x="458.9" y="188" font-size="6.5" fill="#444" text-anchor="middle">2022</text>
<text x="408.9" y="199" font-size="6.5" fill="#444" text-anchor="middle">Origin</text>
<text transform="translate(317.8,94.9) rotate(-90)" font-size="6.45" fill="#444" text-anchor="middle">Persistence (years)</text>
<circle cx="344.5" cy="21.9" r="3.7" fill="#2a2f72" stroke="#1c1c2c" stroke-width="0.7"/>
<circle cx="386.3" cy="85.9" r="3.7" fill="#2a2f72" stroke="#1c1c2c" stroke-width="0.7"/>
<circle cx="351.7" cy="108.4" r="3.7" fill="#2a2f72" stroke="#1c1c2c" stroke-width="0.7"/>
<circle cx="348" cy="133.4" r="3.7" fill="#1f74c0" stroke="#1c1c2c" stroke-width="0.7"/>
<circle cx="405.3" cy="100.2" r="3.7" fill="#1b8a45" stroke="#1c1c2c" stroke-width="0.7"/>
<circle cx="412.2" cy="105.8" r="3.7" fill="#1f74c0" stroke="#1c1c2c" stroke-width="0.7"/>
<circle cx="418.5" cy="113.7" r="3.7" fill="#a2192b" stroke="#1c1c2c" stroke-width="0.7"/>
<circle cx="425.1" cy="121.6" r="3.7" fill="#1b8a45" stroke="#1c1c2c" stroke-width="0.7"/>
<circle cx="433.5" cy="124.4" r="3.7" fill="#2a2f72" stroke="#1c1c2c" stroke-width="0.7"/>
<circle cx="440.3" cy="126.9" r="3.7" fill="#1b8a45" stroke="#1c1c2c" stroke-width="0.7"/>
<circle cx="437.7" cy="133.7" r="3.7" fill="#1f74c0" stroke="#1c1c2c" stroke-width="0.7"/>
<circle cx="445.8" cy="133.8" r="3.7" fill="#2a2f72" stroke="#1c1c2c" stroke-width="0.7"/>
<circle cx="440.6" cy="137" r="2.6" fill="#f3d21e" stroke="#1c1c2c" stroke-width="0.7"/>
<circle cx="435.5" cy="140.4" r="3.7" fill="#2a2f72" stroke="#1c1c2c" stroke-width="0.7"/>
<circle cx="443.8" cy="139.6" r="3.7" fill="#1f74c0" stroke="#1c1c2c" stroke-width="0.7"/>
<circle cx="391.2" cy="149.9" r="3.7" fill="#1b8a45" stroke="#1c1c2c" stroke-width="0.7"/>
<circle cx="397" cy="147.9" r="3.7" fill="#1b8a45" stroke="#1c1c2c" stroke-width="0.7"/>
<circle cx="372.5" cy="152.8" r="3.7" fill="#1f74c0" stroke="#1c1c2c" stroke-width="0.7"/>
<circle cx="380.2" cy="154.5" r="3.7" fill="#1b8a45" stroke="#1c1c2c" stroke-width="0.7"/>
<circle cx="377.7" cy="158" r="3.7" fill="#2a2f72" stroke="#1c1c2c" stroke-width="0.7"/>
<circle cx="373.3" cy="160" r="3.7" fill="#2a2f72" stroke="#1c1c2c" stroke-width="0.7"/>
<circle cx="378.2" cy="162.3" r="3.7" fill="#1b8a45" stroke="#1c1c2c" stroke-width="0.7"/>
<circle cx="376.8" cy="163.7" r="3.7" fill="#2a2f72" stroke="#1c1c2c" stroke-width="0.7"/>
<circle cx="379.7" cy="167.5" r="3.7" fill="#2a2f72" stroke="#1c1c2c" stroke-width="0.7"/>
<circle cx="403.6" cy="159.4" r="3.7" fill="#1f74c0" stroke="#1c1c2c" stroke-width="0.7"/>
<circle cx="399.8" cy="162.9" r="3.7" fill="#2a2f72" stroke="#1c1c2c" stroke-width="0.7"/>
<circle cx="413.7" cy="162.3" r="3.7" fill="#1f74c0" stroke="#1c1c2c" stroke-width="0.7"/>
<circle cx="445.9" cy="143.3" r="3.7" fill="#2a2f72" stroke="#1c1c2c" stroke-width="0.7"/>
<circle cx="453.3" cy="144.9" r="3.7" fill="#1f74c0" stroke="#1c1c2c" stroke-width="0.7"/>
<circle cx="447.5" cy="145.5" r="3.7" fill="#2a2f72" stroke="#1c1c2c" stroke-width="0.7"/>
<circle cx="460.8" cy="146" r="3.7" fill="#a2192b" stroke="#1c1c2c" stroke-width="0.7"/>
<circle cx="450.5" cy="148.6" r="3.7" fill="#2a2f72" stroke="#1c1c2c" stroke-width="0.7"/>
<circle cx="456.5" cy="150.8" r="3.7" fill="#1b8a45" stroke="#1c1c2c" stroke-width="0.7"/>
<circle cx="462.9" cy="151.8" r="3.7" fill="#1f74c0" stroke="#1c1c2c" stroke-width="0.7"/>
<circle cx="452.5" cy="152" r="3.7" fill="#2a2f72" stroke="#1c1c2c" stroke-width="0.7"/>
<circle cx="454.9" cy="155" r="3.7" fill="#2a2f72" stroke="#1c1c2c" stroke-width="0.7"/>
<circle cx="470.8" cy="157.1" r="3.7" fill="#1f74c0" stroke="#1c1c2c" stroke-width="0.7"/>
<circle cx="459.2" cy="156.6" r="3.7" fill="#2a2f72" stroke="#1c1c2c" stroke-width="0.7"/>
<circle cx="467.6" cy="158.7" r="3.7" fill="#2a2f72" stroke="#1c1c2c" stroke-width="0.7"/>
<circle cx="474" cy="162.9" r="3.7" fill="#1f74c0" stroke="#1c1c2c" stroke-width="0.7"/>
<circle cx="451.8" cy="162.4" r="3.7" fill="#ee6b33" stroke="#1c1c2c" stroke-width="0.7"/>
<circle cx="459.7" cy="164" r="3.7" fill="#1f74c0" stroke="#1c1c2c" stroke-width="0.7"/>
<circle cx="463.4" cy="161.9" r="3.7" fill="#2a2f72" stroke="#1c1c2c" stroke-width="0.7"/>
<circle cx="462.3" cy="162.9" r="3.7" fill="#2a2f72" stroke="#1c1c2c" stroke-width="0.7"/>
<circle cx="469.7" cy="164" r="3.7" fill="#2a2f72" stroke="#1c1c2c" stroke-width="0.7"/>
<circle cx="457" cy="159.5" r="3.7" fill="#2a2f72" stroke="#1c1c2c" stroke-width="0.7"/>
<circle cx="451.8" cy="166.6" r="3.7" fill="#2a2f72" stroke="#1c1c2c" stroke-width="0.7"/>
<circle cx="466.6" cy="166.6" r="3.7" fill="#2a2f72" stroke="#1c1c2c" stroke-width="0.7"/>
<circle cx="461" cy="167" r="3.7" fill="#2a2f72" stroke="#1c1c2c" stroke-width="0.7"/>
<text x="500.9" y="8" font-size="10.5" font-weight="bold" fill="#161616">c</text>
<line x1="529.2" y1="21.5" x2="529.2" y2="171.8" stroke="#777" stroke-width="0.7"/>
<line x1="529.2" y1="171.8" x2="681" y2="171.8" stroke="#777" stroke-width="0.7"/>
<line x1="526" y1="171.8" x2="529.2" y2="171.8" stroke="#777" stroke-width="0.6"/>
<text x="522.8" y="174.1" font-size="6.5" fill="#444" text-anchor="end">0</text>
<line x1="526" y1="149.4" x2="529.2" y2="149.4" stroke="#777" stroke-width="0.6"/>
<text x="522.8" y="151.7" font-size="6.5" fill="#444" text-anchor="end">10</text>
<line x1="526" y1="127.0" x2="529.2" y2="127.0" stroke="#777" stroke-width="0.6"/>
<text x="522.8" y="129.3" font-size="6.5" fill="#444" text-anchor="end">20</text>
<line x1="526" y1="104.6" x2="529.2" y2="104.6" stroke="#777" stroke-width="0.6"/>
<text x="522.8" y="106.9" font-size="6.5" fill="#444" text-anchor="end">30</text>
<line x1="526" y1="82.2" x2="529.2" y2="82.2" stroke="#777" stroke-width="0.6"/>
<text x="522.8" y="84.5" font-size="6.5" fill="#444" text-anchor="end">40</text>
<line x1="526" y1="59.8" x2="529.2" y2="59.8" stroke="#777" stroke-width="0.6"/>
<text x="522.8" y="62.1" font-size="6.5" fill="#444" text-anchor="end">50</text>
<line x1="526" y1="37.4" x2="529.2" y2="37.4" stroke="#777" stroke-width="0.6"/>
<text x="522.8" y="39.7" font-size="6.5" fill="#444" text-anchor="end">60</text>
<line x1="537.5" y1="171.8" x2="537.5" y2="174.8" stroke="#777" stroke-width="0.6"/>
<text x="537.5" y="184.6" font-size="6.5" fill="#444" text-anchor="middle">Mar 2015</text>
<line x1="571.0" y1="171.8" x2="571.0" y2="174.8" stroke="#777" stroke-width="0.6"/>
<text x="571.0" y="184.6" font-size="6.5" fill="#444" text-anchor="middle">Mar 2017</text>
<line x1="604.4" y1="171.8" x2="604.4" y2="174.8" stroke="#777" stroke-width="0.6"/>
<text x="604.4" y="184.6" font-size="6.5" fill="#444" text-anchor="middle">Mar 2019</text>
<line x1="637.9" y1="171.8" x2="637.9" y2="174.8" stroke="#777" stroke-width="0.6"/>
<text x="637.9" y="184.6" font-size="6.5" fill="#444" text-anchor="middle">Mar 2021</text>
<line x1="671.3" y1="171.8" x2="671.3" y2="174.8" stroke="#777" stroke-width="0.6"/>
<text x="671.3" y="184.6" font-size="6.5" fill="#444" text-anchor="middle">Mar 2023</text>
<text transform="translate(506.4,96.2) rotate(-90)" font-size="6.66" fill="#444" text-anchor="middle">Number of transmission chains circulating</text>
<rect x="543.77" y="169.56" width="1.394" height="2.24" fill="#2e3377"/>
<rect x="545.17" y="169.56" width="1.394" height="2.24" fill="#2e3377"/>
<rect x="546.56" y="169.56" width="1.394" height="2.24" fill="#2e3377"/>
<rect x="546.56" y="167.32" width="1.394" height="2.24" fill="#1f78c1"/>
<rect x="547.96" y="169.56" width="1.394" height="2.24" fill="#2e3377"/>
<rect x="547.96" y="167.32" width="1.394" height="2.24" fill="#1f78c1"/>
<rect x="549.35" y="169.56" width="1.394" height="2.24" fill="#2e3377"/>
<rect x="549.35" y="167.32" width="1.394" height="2.24" fill="#1f78c1"/>
<rect x="550.74" y="167.32" width="1.394" height="4.48" fill="#2e3377"/>
<rect x="550.74" y="165.08" width="1.394" height="2.24" fill="#1f78c1"/>
<rect x="552.14" y="167.32" width="1.394" height="4.48" fill="#2e3377"/>
<rect x="552.14" y="165.08" width="1.394" height="2.24" fill="#1f78c1"/>
<rect x="553.53" y="167.32" width="1.394" height="4.48" fill="#2e3377"/>
<rect x="553.53" y="165.08" width="1.394" height="2.24" fill="#1f78c1"/>
<rect x="554.92" y="167.32" width="1.394" height="4.48" fill="#2e3377"/>
<rect x="554.92" y="165.08" width="1.394" height="2.24" fill="#1f78c1"/>
<rect x="556.32" y="167.32" width="1.394" height="4.48" fill="#2e3377"/>
<rect x="556.32" y="165.08" width="1.394" height="2.24" fill="#1f78c1"/>
<rect x="557.71" y="167.32" width="1.394" height="4.48" fill="#2e3377"/>
<rect x="557.71" y="165.08" width="1.394" height="2.24" fill="#1f78c1"/>
<rect x="559.11" y="167.32" width="1.394" height="4.48" fill="#2e3377"/>
<rect x="559.11" y="165.08" width="1.394" height="2.24" fill="#1f78c1"/>
<rect x="560.50" y="167.32" width="1.394" height="4.48" fill="#2e3377"/>
<rect x="560.50" y="165.08" width="1.394" height="2.24" fill="#1f78c1"/>
<rect x="561.89" y="167.32" width="1.394" height="4.48" fill="#2e3377"/>
<rect x="561.89" y="165.08" width="1.394" height="2.24" fill="#1f78c1"/>
<rect x="563.29" y="167.32" width="1.394" height="4.48" fill="#2e3377"/>
<rect x="563.29" y="165.08" width="1.394" height="2.24" fill="#1f78c1"/>
<rect x="564.68" y="167.32" width="1.394" height="4.48" fill="#2e3377"/>
<rect x="564.68" y="165.08" width="1.394" height="2.24" fill="#1f78c1"/>
<rect x="566.08" y="167.32" width="1.394" height="4.48" fill="#2e3377"/>
<rect x="566.08" y="165.08" width="1.394" height="2.24" fill="#1f78c1"/>
<rect x="567.47" y="167.32" width="1.394" height="4.48" fill="#2e3377"/>
<rect x="567.47" y="165.08" width="1.394" height="2.24" fill="#1f78c1"/>
<rect x="568.87" y="167.32" width="1.394" height="4.48" fill="#2e3377"/>
<rect x="568.87" y="165.08" width="1.394" height="2.24" fill="#1f78c1"/>
<rect x="570.26" y="160.60" width="1.394" height="11.20" fill="#2e3377"/>
<rect x="570.26" y="156.12" width="1.394" height="4.48" fill="#1f78c1"/>
<rect x="571.65" y="158.36" width="1.394" height="13.44" fill="#2e3377"/>
<rect x="571.65" y="153.88" width="1.394" height="4.48" fill="#1f78c1"/>
<rect x="573.05" y="156.12" width="1.394" height="15.68" fill="#2e3377"/>
<rect x="573.05" y="149.40" width="1.394" height="6.72" fill="#1f78c1"/>
<rect x="573.05" y="147.16" width="1.394" height="2.24" fill="#a11d2e"/>
<rect x="574.44" y="153.88" width="1.394" height="17.92" fill="#2e3377"/>
<rect x="574.44" y="147.16" width="1.394" height="6.72" fill="#1f78c1"/>
<rect x="574.44" y="144.92" width="1.394" height="2.24" fill="#a11d2e"/>
<rect x="574.44" y="140.44" width="1.394" height="4.48" fill="#1b8a45"/>
<rect x="575.84" y="151.64" width="1.394" height="20.16" fill="#2e3377"/>
<rect x="575.84" y="144.92" width="1.394" height="6.72" fill="#1f78c1"/>
<rect x="575.84" y="142.68" width="1.394" height="2.24" fill="#a11d2e"/>
<rect x="575.84" y="135.96" width="1.394" height="6.72" fill="#1b8a45"/>
<rect x="577.23" y="153.88" width="1.394" height="17.92" fill="#2e3377"/>
<rect x="577.23" y="147.16" width="1.394" height="6.72" fill="#1f78c1"/>
<rect x="577.23" y="144.92" width="1.394" height="2.24" fill="#a11d2e"/>
<rect x="577.23" y="138.20" width="1.394" height="6.72" fill="#1b8a45"/>
<rect x="578.62" y="158.36" width="1.394" height="13.44" fill="#2e3377"/>
<rect x="578.62" y="153.88" width="1.394" height="4.48" fill="#1f78c1"/>
<rect x="578.62" y="151.64" width="1.394" height="2.24" fill="#a11d2e"/>
<rect x="578.62" y="147.16" width="1.394" height="4.48" fill="#1b8a45"/>
<rect x="580.02" y="160.60" width="1.394" height="11.20" fill="#2e3377"/>
<rect x="580.02" y="156.12" width="1.394" height="4.48" fill="#1f78c1"/>
<rect x="580.02" y="153.88" width="1.394" height="2.24" fill="#a11d2e"/>
<rect x="580.02" y="147.16" width="1.394" height="6.72" fill="#1b8a45"/>
<rect x="581.41" y="162.84" width="1.394" height="8.96" fill="#2e3377"/>
<rect x="581.41" y="160.60" width="1.394" height="2.24" fill="#1f78c1"/>
<rect x="581.41" y="158.36" width="1.394" height="2.24" fill="#a11d2e"/>
<rect x="581.41" y="151.64" width="1.394" height="6.72" fill="#1b8a45"/>
<rect x="582.80" y="162.84" width="1.394" height="8.96" fill="#2e3377"/>
<rect x="582.80" y="160.60" width="1.394" height="2.24" fill="#1f78c1"/>
<rect x="582.80" y="151.64" width="1.394" height="8.96" fill="#1b8a45"/>
<rect x="584.20" y="162.84" width="1.394" height="8.96" fill="#2e3377"/>
<rect x="584.20" y="160.60" width="1.394" height="2.24" fill="#1f78c1"/>
<rect x="584.20" y="153.88" width="1.394" height="6.72" fill="#1b8a45"/>
<rect x="585.59" y="162.84" width="1.394" height="8.96" fill="#2e3377"/>
<rect x="585.59" y="160.60" width="1.394" height="2.24" fill="#1f78c1"/>
<rect x="585.59" y="156.12" width="1.394" height="4.48" fill="#1b8a45"/>
<rect x="586.99" y="165.08" width="1.394" height="6.72" fill="#2e3377"/>
<rect x="586.99" y="160.60" width="1.394" height="4.48" fill="#1b8a45"/>
<rect x="588.38" y="165.08" width="1.394" height="6.72" fill="#2e3377"/>
<rect x="588.38" y="160.60" width="1.394" height="4.48" fill="#1b8a45"/>
<rect x="589.77" y="165.08" width="1.394" height="6.72" fill="#2e3377"/>
<rect x="589.77" y="160.60" width="1.394" height="4.48" fill="#1b8a45"/>
<rect x="591.17" y="165.08" width="1.394" height="6.72" fill="#2e3377"/>
<rect x="591.17" y="160.60" width="1.394" height="4.48" fill="#1b8a45"/>
<rect x="592.56" y="165.08" width="1.394" height="6.72" fill="#2e3377"/>
<rect x="592.56" y="160.60" width="1.394" height="4.48" fill="#1b8a45"/>
<rect x="593.96" y="165.08" width="1.394" height="6.72" fill="#2e3377"/>
<rect x="593.96" y="160.60" width="1.394" height="4.48" fill="#1b8a45"/>
<rect x="595.35" y="162.84" width="1.394" height="8.96" fill="#2e3377"/>
<rect x="595.35" y="158.36" width="1.394" height="4.48" fill="#1b8a45"/>
<rect x="596.75" y="162.84" width="1.394" height="8.96" fill="#2e3377"/>
<rect x="596.75" y="158.36" width="1.394" height="4.48" fill="#1b8a45"/>
<rect x="598.14" y="162.84" width="1.394" height="8.96" fill="#2e3377"/>
<rect x="598.14" y="158.36" width="1.394" height="4.48" fill="#1b8a45"/>
<rect x="599.53" y="162.84" width="1.394" height="8.96" fill="#2e3377"/>
<rect x="599.53" y="160.60" width="1.394" height="2.24" fill="#1f78c1"/>
<rect x="599.53" y="156.12" width="1.394" height="4.48" fill="#1b8a45"/>
<rect x="600.93" y="162.84" width="1.394" height="8.96" fill="#2e3377"/>
<rect x="600.93" y="160.60" width="1.394" height="2.24" fill="#1f78c1"/>
<rect x="600.93" y="153.88" width="1.394" height="6.72" fill="#1b8a45"/>
<rect x="602.32" y="165.08" width="1.394" height="6.72" fill="#2e3377"/>
<rect x="602.32" y="162.84" width="1.394" height="2.24" fill="#1f78c1"/>
<rect x="602.32" y="156.12" width="1.394" height="6.72" fill="#1b8a45"/>
<rect x="603.72" y="165.08" width="1.394" height="6.72" fill="#2e3377"/>
<rect x="603.72" y="162.84" width="1.394" height="2.24" fill="#1f78c1"/>
<rect x="603.72" y="156.12" width="1.394" height="6.72" fill="#1b8a45"/>
<rect x="605.11" y="165.08" width="1.394" height="6.72" fill="#2e3377"/>
<rect x="605.11" y="162.84" width="1.394" height="2.24" fill="#1f78c1"/>
<rect x="605.11" y="156.12" width="1.394" height="6.72" fill="#1b8a45"/>
<rect x="606.50" y="167.32" width="1.394" height="4.48" fill="#2e3377"/>
<rect x="606.50" y="162.84" width="1.394" height="4.48" fill="#1f78c1"/>
<rect x="606.50" y="158.36" width="1.394" height="4.48" fill="#1b8a45"/>
<rect x="607.90" y="167.32" width="1.394" height="4.48" fill="#2e3377"/>
<rect x="607.90" y="162.84" width="1.394" height="4.48" fill="#1f78c1"/>
<rect x="607.90" y="158.36" width="1.394" height="4.48" fill="#1b8a45"/>
<rect x="609.29" y="167.32" width="1.394" height="4.48" fill="#2e3377"/>
<rect x="609.29" y="162.84" width="1.394" height="4.48" fill="#1f78c1"/>
<rect x="609.29" y="156.12" width="1.394" height="6.72" fill="#1b8a45"/>
<rect x="610.68" y="167.32" width="1.394" height="4.48" fill="#2e3377"/>
<rect x="610.68" y="162.84" width="1.394" height="4.48" fill="#1f78c1"/>
<rect x="610.68" y="158.36" width="1.394" height="4.48" fill="#1b8a45"/>
<rect x="612.08" y="167.32" width="1.394" height="4.48" fill="#2e3377"/>
<rect x="612.08" y="162.84" width="1.394" height="4.48" fill="#1f78c1"/>
<rect x="612.08" y="158.36" width="1.394" height="4.48" fill="#1b8a45"/>
<rect x="613.47" y="167.32" width="1.394" height="4.48" fill="#2e3377"/>
<rect x="613.47" y="162.84" width="1.394" height="4.48" fill="#1f78c1"/>
<rect x="613.47" y="160.60" width="1.394" height="2.24" fill="#a11d2e"/>
<rect x="613.47" y="158.36" width="1.394" height="2.24" fill="#1b8a45"/>
<rect x="614.87" y="167.32" width="1.394" height="4.48" fill="#2e3377"/>
<rect x="614.87" y="162.84" width="1.394" height="4.48" fill="#1f78c1"/>
<rect x="614.87" y="160.60" width="1.394" height="2.24" fill="#a11d2e"/>
<rect x="614.87" y="158.36" width="1.394" height="2.24" fill="#1b8a45"/>
<rect x="616.26" y="167.32" width="1.394" height="4.48" fill="#2e3377"/>
<rect x="616.26" y="162.84" width="1.394" height="4.48" fill="#1f78c1"/>
<rect x="616.26" y="160.60" width="1.394" height="2.24" fill="#a11d2e"/>
<rect x="616.26" y="158.36" width="1.394" height="2.24" fill="#1b8a45"/>
<rect x="617.65" y="167.32" width="1.394" height="4.48" fill="#2e3377"/>
<rect x="617.65" y="165.08" width="1.394" height="2.24" fill="#1f78c1"/>
<rect x="617.65" y="162.84" width="1.394" height="2.24" fill="#a11d2e"/>
<rect x="617.65" y="160.60" width="1.394" height="2.24" fill="#1b8a45"/>
<rect x="619.05" y="167.32" width="1.394" height="4.48" fill="#2e3377"/>
<rect x="619.05" y="165.08" width="1.394" height="2.24" fill="#1f78c1"/>
<rect x="619.05" y="162.84" width="1.394" height="2.24" fill="#a11d2e"/>
<rect x="619.05" y="158.36" width="1.394" height="4.48" fill="#1b8a45"/>
<rect x="620.44" y="167.32" width="1.394" height="4.48" fill="#2e3377"/>
<rect x="620.44" y="165.08" width="1.394" height="2.24" fill="#1f78c1"/>
<rect x="620.44" y="162.84" width="1.394" height="2.24" fill="#a11d2e"/>
<rect x="620.44" y="158.36" width="1.394" height="4.48" fill="#1b8a45"/>
<rect x="621.84" y="167.32" width="1.394" height="4.48" fill="#2e3377"/>
<rect x="621.84" y="165.08" width="1.394" height="2.24" fill="#1f78c1"/>
<rect x="621.84" y="162.84" width="1.394" height="2.24" fill="#a11d2e"/>
<rect x="621.84" y="158.36" width="1.394" height="4.48" fill="#1b8a45"/>
<rect x="623.23" y="167.32" width="1.394" height="4.48" fill="#2e3377"/>
<rect x="623.23" y="165.08" width="1.394" height="2.24" fill="#1f78c1"/>
<rect x="623.23" y="162.84" width="1.394" height="2.24" fill="#a11d2e"/>
<rect x="623.23" y="158.36" width="1.394" height="4.48" fill="#1b8a45"/>
<rect x="624.62" y="167.32" width="1.394" height="4.48" fill="#2e3377"/>
<rect x="624.62" y="165.08" width="1.394" height="2.24" fill="#1f78c1"/>
<rect x="624.62" y="162.84" width="1.394" height="2.24" fill="#a11d2e"/>
<rect x="624.62" y="158.36" width="1.394" height="4.48" fill="#1b8a45"/>
<rect x="626.02" y="162.84" width="1.394" height="8.96" fill="#2e3377"/>
<rect x="626.02" y="160.60" width="1.394" height="2.24" fill="#1f78c1"/>
<rect x="626.02" y="158.36" width="1.394" height="2.24" fill="#1b8a45"/>
<rect x="627.41" y="162.84" width="1.394" height="8.96" fill="#2e3377"/>
<rect x="627.41" y="158.36" width="1.394" height="4.48" fill="#1f78c1"/>
<rect x="627.41" y="156.12" width="1.394" height="2.24" fill="#1b8a45"/>
<rect x="628.81" y="162.84" width="1.394" height="8.96" fill="#2e3377"/>
<rect x="628.81" y="158.36" width="1.394" height="4.48" fill="#1f78c1"/>
<rect x="628.81" y="156.12" width="1.394" height="2.24" fill="#a11d2e"/>
<rect x="628.81" y="153.88" width="1.394" height="2.24" fill="#1b8a45"/>
<rect x="630.20" y="162.84" width="1.394" height="8.96" fill="#2e3377"/>
<rect x="630.20" y="158.36" width="1.394" height="4.48" fill="#1f78c1"/>
<rect x="630.20" y="156.12" width="1.394" height="2.24" fill="#a11d2e"/>
<rect x="630.20" y="151.64" width="1.394" height="4.48" fill="#1b8a45"/>
<rect x="631.60" y="162.84" width="1.394" height="8.96" fill="#2e3377"/>
<rect x="631.60" y="158.36" width="1.394" height="4.48" fill="#1f78c1"/>
<rect x="631.60" y="156.12" width="1.394" height="2.24" fill="#a11d2e"/>
<rect x="631.60" y="151.64" width="1.394" height="4.48" fill="#1b8a45"/>
<rect x="631.60" y="149.40" width="1.394" height="2.24" fill="#f6d21c"/>
<rect x="632.99" y="162.84" width="1.394" height="8.96" fill="#2e3377"/>
<rect x="632.99" y="158.36" width="1.394" height="4.48" fill="#1f78c1"/>
<rect x="632.99" y="156.12" width="1.394" height="2.24" fill="#a11d2e"/>
<rect x="632.99" y="149.40" width="1.394" height="6.72" fill="#1b8a45"/>
<rect x="632.99" y="147.16" width="1.394" height="2.24" fill="#f6d21c"/>
<rect x="634.38" y="162.84" width="1.394" height="8.96" fill="#2e3377"/>
<rect x="634.38" y="158.36" width="1.394" height="4.48" fill="#1f78c1"/>
<rect x="634.38" y="156.12" width="1.394" height="2.24" fill="#a11d2e"/>
<rect x="634.38" y="147.16" width="1.394" height="8.96" fill="#1b8a45"/>
<rect x="634.38" y="144.92" width="1.394" height="2.24" fill="#f6d21c"/>
<rect x="635.78" y="160.60" width="1.394" height="11.20" fill="#2e3377"/>
<rect x="635.78" y="153.88" width="1.394" height="6.72" fill="#1f78c1"/>
<rect x="635.78" y="151.64" width="1.394" height="2.24" fill="#a11d2e"/>
<rect x="635.78" y="147.16" width="1.394" height="4.48" fill="#1b8a45"/>
<rect x="635.78" y="144.92" width="1.394" height="2.24" fill="#f6d21c"/>
<rect x="637.17" y="156.12" width="1.394" height="15.68" fill="#2e3377"/>
<rect x="637.17" y="151.64" width="1.394" height="4.48" fill="#1f78c1"/>
<rect x="637.17" y="142.68" width="1.394" height="8.96" fill="#a11d2e"/>
<rect x="637.17" y="140.44" width="1.394" height="2.24" fill="#1b8a45"/>
<rect x="637.17" y="135.96" width="1.394" height="4.48" fill="#f6d21c"/>
<rect x="638.56" y="156.12" width="1.394" height="15.68" fill="#2e3377"/>
<rect x="638.56" y="149.40" width="1.394" height="6.72" fill="#1f78c1"/>
<rect x="638.56" y="140.44" width="1.394" height="8.96" fill="#a11d2e"/>
<rect x="638.56" y="133.72" width="1.394" height="6.72" fill="#1b8a45"/>
<rect x="638.56" y="131.48" width="1.394" height="2.24" fill="#f6d21c"/>
<rect x="639.96" y="156.12" width="1.394" height="15.68" fill="#2e3377"/>
<rect x="639.96" y="149.40" width="1.394" height="6.72" fill="#1f78c1"/>
<rect x="639.96" y="135.96" width="1.394" height="13.44" fill="#a11d2e"/>
<rect x="639.96" y="129.24" width="1.394" height="6.72" fill="#1b8a45"/>
<rect x="639.96" y="127.00" width="1.394" height="2.24" fill="#f6d21c"/>
<rect x="639.96" y="124.76" width="1.394" height="2.24" fill="#ee6b33"/>
<rect x="641.35" y="151.64" width="1.394" height="20.16" fill="#2e3377"/>
<rect x="641.35" y="147.16" width="1.394" height="4.48" fill="#1f78c1"/>
<rect x="641.35" y="133.72" width="1.394" height="13.44" fill="#a11d2e"/>
<rect x="641.35" y="127.00" width="1.394" height="6.72" fill="#1b8a45"/>
<rect x="641.35" y="124.76" width="1.394" height="2.24" fill="#f6d21c"/>
<rect x="641.35" y="122.52" width="1.394" height="2.24" fill="#ee6b33"/>
<rect x="642.75" y="149.40" width="1.394" height="22.40" fill="#2e3377"/>
<rect x="642.75" y="138.20" width="1.394" height="11.20" fill="#1f78c1"/>
<rect x="642.75" y="127.00" width="1.394" height="11.20" fill="#a11d2e"/>
<rect x="642.75" y="122.52" width="1.394" height="4.48" fill="#1b8a45"/>
<rect x="642.75" y="120.28" width="1.394" height="2.24" fill="#f6d21c"/>
<rect x="642.75" y="118.04" width="1.394" height="2.24" fill="#ee6b33"/>
<rect x="644.14" y="149.40" width="1.394" height="22.40" fill="#2e3377"/>
<rect x="644.14" y="133.72" width="1.394" height="15.68" fill="#1f78c1"/>
<rect x="644.14" y="124.76" width="1.394" height="8.96" fill="#a11d2e"/>
<rect x="644.14" y="115.80" width="1.394" height="8.96" fill="#1b8a45"/>
<rect x="644.14" y="113.56" width="1.394" height="2.24" fill="#f6d21c"/>
<rect x="645.53" y="149.40" width="1.394" height="22.40" fill="#2e3377"/>
<rect x="645.53" y="133.72" width="1.394" height="15.68" fill="#1f78c1"/>
<rect x="645.53" y="120.28" width="1.394" height="13.44" fill="#a11d2e"/>
<rect x="645.53" y="113.56" width="1.394" height="6.72" fill="#1b8a45"/>
<rect x="645.53" y="111.32" width="1.394" height="2.24" fill="#f6d21c"/>
<rect x="645.53" y="109.08" width="1.394" height="2.24" fill="#ee6b33"/>
<rect x="646.93" y="149.40" width="1.394" height="22.40" fill="#2e3377"/>
<rect x="646.93" y="133.72" width="1.394" height="15.68" fill="#1f78c1"/>
<rect x="646.93" y="111.32" width="1.394" height="22.40" fill="#a11d2e"/>
<rect x="646.93" y="104.60" width="1.394" height="6.72" fill="#1b8a45"/>
<rect x="646.93" y="97.88" width="1.394" height="6.72" fill="#f6d21c"/>
<rect x="646.93" y="91.16" width="1.394" height="6.72" fill="#ee6b33"/>
<rect x="648.32" y="147.16" width="1.394" height="24.64" fill="#2e3377"/>
<rect x="648.32" y="131.48" width="1.394" height="15.68" fill="#1f78c1"/>
<rect x="648.32" y="109.08" width="1.394" height="22.40" fill="#a11d2e"/>
<rect x="648.32" y="102.36" width="1.394" height="6.72" fill="#1b8a45"/>
<rect x="648.32" y="95.64" width="1.394" height="6.72" fill="#f6d21c"/>
<rect x="648.32" y="91.16" width="1.394" height="4.48" fill="#ee6b33"/>
<rect x="649.72" y="144.92" width="1.394" height="26.88" fill="#2e3377"/>
<rect x="649.72" y="127.00" width="1.394" height="17.92" fill="#1f78c1"/>
<rect x="649.72" y="104.60" width="1.394" height="22.40" fill="#a11d2e"/>
<rect x="649.72" y="97.88" width="1.394" height="6.72" fill="#1b8a45"/>
<rect x="649.72" y="93.40" width="1.394" height="4.48" fill="#f6d21c"/>
<rect x="649.72" y="88.92" width="1.394" height="4.48" fill="#ee6b33"/>
<rect x="651.11" y="142.68" width="1.394" height="29.12" fill="#2e3377"/>
<rect x="651.11" y="122.52" width="1.394" height="20.16" fill="#1f78c1"/>
<rect x="651.11" y="100.12" width="1.394" height="22.40" fill="#a11d2e"/>
<rect x="651.11" y="93.40" width="1.394" height="6.72" fill="#1b8a45"/>
<rect x="651.11" y="88.92" width="1.394" height="4.48" fill="#f6d21c"/>
<rect x="651.11" y="86.68" width="1.394" height="2.24" fill="#ee6b33"/>
<rect x="652.50" y="138.20" width="1.394" height="33.60" fill="#2e3377"/>
<rect x="652.50" y="111.32" width="1.394" height="26.88" fill="#1f78c1"/>
<rect x="652.50" y="79.96" width="1.394" height="31.36" fill="#a11d2e"/>
<rect x="652.50" y="73.24" width="1.394" height="6.72" fill="#1b8a45"/>
<rect x="652.50" y="68.76" width="1.394" height="4.48" fill="#f6d21c"/>
<rect x="652.50" y="66.52" width="1.394" height="2.24" fill="#ee6b33"/>
<rect x="653.90" y="135.96" width="1.394" height="35.84" fill="#2e3377"/>
<rect x="653.90" y="104.60" width="1.394" height="31.36" fill="#1f78c1"/>
<rect x="653.90" y="77.72" width="1.394" height="26.88" fill="#a11d2e"/>
<rect x="653.90" y="68.76" width="1.394" height="8.96" fill="#1b8a45"/>
<rect x="653.90" y="64.28" width="1.394" height="4.48" fill="#f6d21c"/>
<rect x="653.90" y="62.04" width="1.394" height="2.24" fill="#ee6b33"/>
<rect x="655.29" y="133.72" width="1.394" height="38.08" fill="#2e3377"/>
<rect x="655.29" y="97.88" width="1.394" height="35.84" fill="#1f78c1"/>
<rect x="655.29" y="77.72" width="1.394" height="20.16" fill="#a11d2e"/>
<rect x="655.29" y="59.80" width="1.394" height="17.92" fill="#1b8a45"/>
<rect x="655.29" y="46.36" width="1.394" height="13.44" fill="#f6d21c"/>
<rect x="655.29" y="44.12" width="1.394" height="2.24" fill="#ee6b33"/>
<rect x="656.69" y="133.72" width="1.394" height="38.08" fill="#2e3377"/>
<rect x="656.69" y="95.64" width="1.394" height="38.08" fill="#1f78c1"/>
<rect x="656.69" y="71.00" width="1.394" height="24.64" fill="#a11d2e"/>
<rect x="656.69" y="44.12" width="1.394" height="26.88" fill="#1b8a45"/>
<rect x="656.69" y="32.92" width="1.394" height="11.20" fill="#f6d21c"/>
<rect x="656.69" y="28.44" width="1.394" height="4.48" fill="#ee6b33"/>
<rect x="658.08" y="133.72" width="1.394" height="38.08" fill="#2e3377"/>
<rect x="658.08" y="95.64" width="1.394" height="38.08" fill="#1f78c1"/>
<rect x="658.08" y="71.00" width="1.394" height="24.64" fill="#a11d2e"/>
<rect x="658.08" y="44.12" width="1.394" height="26.88" fill="#1b8a45"/>
<rect x="658.08" y="32.92" width="1.394" height="11.20" fill="#f6d21c"/>
<rect x="658.08" y="28.44" width="1.394" height="4.48" fill="#ee6b33"/>
<rect x="659.48" y="133.72" width="1.394" height="38.08" fill="#2e3377"/>
<rect x="659.48" y="95.64" width="1.394" height="38.08" fill="#1f78c1"/>
<rect x="659.48" y="71.00" width="1.394" height="24.64" fill="#a11d2e"/>
<rect x="659.48" y="44.12" width="1.394" height="26.88" fill="#1b8a45"/>
<rect x="659.48" y="32.92" width="1.394" height="11.20" fill="#f6d21c"/>
<rect x="659.48" y="28.44" width="1.394" height="4.48" fill="#ee6b33"/>
<rect x="660.87" y="135.96" width="1.394" height="35.84" fill="#2e3377"/>
<rect x="660.87" y="97.88" width="1.394" height="38.08" fill="#1f78c1"/>
<rect x="660.87" y="88.92" width="1.394" height="8.96" fill="#a11d2e"/>
<rect x="660.87" y="71.00" width="1.394" height="17.92" fill="#1b8a45"/>
<rect x="660.87" y="59.80" width="1.394" height="11.20" fill="#f6d21c"/>
<rect x="660.87" y="55.32" width="1.394" height="4.48" fill="#ee6b33"/>
<rect x="662.26" y="142.68" width="1.394" height="29.12" fill="#2e3377"/>
<rect x="662.26" y="129.24" width="1.394" height="13.44" fill="#1f78c1"/>
<rect x="662.26" y="124.76" width="1.394" height="4.48" fill="#a11d2e"/>
<rect x="662.26" y="122.52" width="1.394" height="2.24" fill="#1b8a45"/>
<rect x="662.26" y="118.04" width="1.394" height="4.48" fill="#f6d21c"/>
<rect x="663.66" y="149.40" width="1.394" height="22.40" fill="#2e3377"/>
<rect x="663.66" y="144.92" width="1.394" height="4.48" fill="#1f78c1"/>
<rect x="663.66" y="142.68" width="1.394" height="2.24" fill="#a11d2e"/>
<rect x="665.05" y="151.64" width="1.394" height="20.16" fill="#2e3377"/>
<rect x="665.05" y="147.16" width="1.394" height="4.48" fill="#1f78c1"/>
<rect x="665.05" y="144.92" width="1.394" height="2.24" fill="#a11d2e"/>
<rect x="665.05" y="142.68" width="1.394" height="2.24" fill="#ee6b33"/>
<rect x="666.45" y="153.88" width="1.394" height="17.92" fill="#2e3377"/>
<rect x="666.45" y="149.40" width="1.394" height="4.48" fill="#1f78c1"/>
<rect x="666.45" y="147.16" width="1.394" height="2.24" fill="#a11d2e"/>
<rect x="666.45" y="144.92" width="1.394" height="2.24" fill="#1b8a45"/>
<rect x="667.84" y="160.60" width="1.394" height="11.20" fill="#2e3377"/>
<rect x="667.84" y="156.12" width="1.394" height="4.48" fill="#1f78c1"/>
<rect x="667.84" y="153.88" width="1.394" height="2.24" fill="#a11d2e"/>
<rect x="667.84" y="151.64" width="1.394" height="2.24" fill="#1b8a45"/>
<rect x="669.23" y="162.84" width="1.394" height="8.96" fill="#2e3377"/>
<rect x="669.23" y="158.36" width="1.394" height="4.48" fill="#1f78c1"/>
<rect x="670.63" y="165.08" width="1.394" height="6.72" fill="#2e3377"/>
<rect x="670.63" y="162.84" width="1.394" height="2.24" fill="#1f78c1"/>
<rect x="672.02" y="169.56" width="1.394" height="2.24" fill="#2e3377"/>
<rect x="672.02" y="167.32" width="1.394" height="2.24" fill="#1f78c1"/>
<rect x="545.02" y="169.56" width="0.3" height="2.24" fill="#fff" opacity="0.25"/>
<rect x="546.41" y="169.56" width="0.3" height="2.24" fill="#fff" opacity="0.25"/>
<rect x="547.81" y="167.32" width="0.3" height="4.48" fill="#fff" opacity="0.25"/>
<rect x="549.20" y="167.32" width="0.3" height="4.48" fill="#fff" opacity="0.25"/>
<rect x="550.59" y="167.32" width="0.3" height="4.48" fill="#fff" opacity="0.25"/>
<rect x="551.99" y="165.08" width="0.3" height="6.72" fill="#fff" opacity="0.25"/>
<rect x="553.38" y="165.08" width="0.3" height="6.72" fill="#fff" opacity="0.25"/>
<rect x="554.77" y="165.08" width="0.3" height="6.72" fill="#fff" opacity="0.25"/>
<rect x="556.17" y="165.08" width="0.3" height="6.72" fill="#fff" opacity="0.25"/>
<rect x="557.56" y="165.08" width="0.3" height="6.72" fill="#fff" opacity="0.25"/>
<rect x="558.96" y="165.08" width="0.3" height="6.72" fill="#fff" opacity="0.25"/>
<rect x="560.35" y="165.08" width="0.3" height="6.72" fill="#fff" opacity="0.25"/>
<rect x="561.75" y="165.08" width="0.3" height="6.72" fill="#fff" opacity="0.25"/>
<rect x="563.14" y="165.08" width="0.3" height="6.72" fill="#fff" opacity="0.25"/>
<rect x="564.53" y="165.08" width="0.3" height="6.72" fill="#fff" opacity="0.25"/>
<rect x="565.93" y="165.08" width="0.3" height="6.72" fill="#fff" opacity="0.25"/>
<rect x="567.32" y="165.08" width="0.3" height="6.72" fill="#fff" opacity="0.25"/>
<rect x="568.72" y="165.08" width="0.3" height="6.72" fill="#fff" opacity="0.25"/>
<rect x="570.11" y="165.08" width="0.3" height="6.72" fill="#fff" opacity="0.25"/>
<rect x="571.50" y="156.12" width="0.3" height="15.68" fill="#fff" opacity="0.25"/>
<rect x="572.90" y="153.88" width="0.3" height="17.92" fill="#fff" opacity="0.25"/>
<rect x="574.29" y="147.16" width="0.3" height="24.64" fill="#fff" opacity="0.25"/>
<rect x="575.69" y="140.44" width="0.3" height="31.36" fill="#fff" opacity="0.25"/>
<rect x="577.08" y="135.96" width="0.3" height="35.84" fill="#fff" opacity="0.25"/>
<rect x="578.47" y="138.20" width="0.3" height="33.60" fill="#fff" opacity="0.25"/>
<rect x="579.87" y="147.16" width="0.3" height="24.64" fill="#fff" opacity="0.25"/>
<rect x="581.26" y="147.16" width="0.3" height="24.64" fill="#fff" opacity="0.25"/>
<rect x="582.65" y="151.64" width="0.3" height="20.16" fill="#fff" opacity="0.25"/>
<rect x="584.05" y="151.64" width="0.3" height="20.16" fill="#fff" opacity="0.25"/>
<rect x="585.44" y="153.88" width="0.3" height="17.92" fill="#fff" opacity="0.25"/>
<rect x="586.84" y="156.12" width="0.3" height="15.68" fill="#fff" opacity="0.25"/>
<rect x="588.23" y="160.60" width="0.3" height="11.20" fill="#fff" opacity="0.25"/>
<rect x="589.62" y="160.60" width="0.3" height="11.20" fill="#fff" opacity="0.25"/>
<rect x="591.02" y="160.60" width="0.3" height="11.20" fill="#fff" opacity="0.25"/>
<rect x="592.41" y="160.60" width="0.3" height="11.20" fill="#fff" opacity="0.25"/>
<rect x="593.81" y="160.60" width="0.3" height="11.20" fill="#fff" opacity="0.25"/>
<rect x="595.20" y="160.60" width="0.3" height="11.20" fill="#fff" opacity="0.25"/>
<rect x="596.60" y="158.36" width="0.3" height="13.44" fill="#fff" opacity="0.25"/>
<rect x="597.99" y="158.36" width="0.3" height="13.44" fill="#fff" opacity="0.25"/>
<rect x="599.38" y="158.36" width="0.3" height="13.44" fill="#fff" opacity="0.25"/>
<rect x="600.78" y="156.12" width="0.3" height="15.68" fill="#fff" opacity="0.25"/>
<rect x="602.17" y="153.88" width="0.3" height="17.92" fill="#fff" opacity="0.25"/>
<rect x="603.57" y="156.12" width="0.3" height="15.68" fill="#fff" opacity="0.25"/>
<rect x="604.96" y="156.12" width="0.3" height="15.68" fill="#fff" opacity="0.25"/>
<rect x="606.35" y="156.12" width="0.3" height="15.68" fill="#fff" opacity="0.25"/>
<rect x="607.75" y="158.36" width="0.3" height="13.44" fill="#fff" opacity="0.25"/>
<rect x="609.14" y="158.36" width="0.3" height="13.44" fill="#fff" opacity="0.25"/>
<rect x="610.54" y="156.12" width="0.3" height="15.68" fill="#fff" opacity="0.25"/>
<rect x="611.93" y="158.36" width="0.3" height="13.44" fill="#fff" opacity="0.25"/>
<rect x="613.32" y="158.36" width="0.3" height="13.44" fill="#fff" opacity="0.25"/>
<rect x="614.72" y="158.36" width="0.3" height="13.44" fill="#fff" opacity="0.25"/>
<rect x="616.11" y="158.36" width="0.3" height="13.44" fill="#fff" opacity="0.25"/>
<rect x="617.50" y="158.36" width="0.3" height="13.44" fill="#fff" opacity="0.25"/>
<rect x="618.90" y="160.60" width="0.3" height="11.20" fill="#fff" opacity="0.25"/>
<rect x="620.29" y="158.36" width="0.3" height="13.44" fill="#fff" opacity="0.25"/>
<rect x="621.69" y="158.36" width="0.3" height="13.44" fill="#fff" opacity="0.25"/>
<rect x="623.08" y="158.36" width="0.3" height="13.44" fill="#fff" opacity="0.25"/>
<rect x="624.48" y="158.36" width="0.3" height="13.44" fill="#fff" opacity="0.25"/>
<rect x="625.87" y="158.36" width="0.3" height="13.44" fill="#fff" opacity="0.25"/>
<rect x="627.26" y="158.36" width="0.3" height="13.44" fill="#fff" opacity="0.25"/>
<rect x="628.66" y="156.12" width="0.3" height="15.68" fill="#fff" opacity="0.25"/>
<rect x="630.05" y="153.88" width="0.3" height="17.92" fill="#fff" opacity="0.25"/>
<rect x="631.45" y="151.64" width="0.3" height="20.16" fill="#fff" opacity="0.25"/>
<rect x="632.84" y="149.40" width="0.3" height="22.40" fill="#fff" opacity="0.25"/>
<rect x="634.23" y="147.16" width="0.3" height="24.64" fill="#fff" opacity="0.25"/>
<rect x="635.63" y="144.92" width="0.3" height="26.88" fill="#fff" opacity="0.25"/>
<rect x="637.02" y="144.92" width="0.3" height="26.88" fill="#fff" opacity="0.25"/>
<rect x="638.41" y="135.96" width="0.3" height="35.84" fill="#fff" opacity="0.25"/>
<rect x="639.81" y="131.48" width="0.3" height="40.32" fill="#fff" opacity="0.25"/>
<rect x="641.20" y="124.76" width="0.3" height="47.04" fill="#fff" opacity="0.25"/>
<rect x="642.60" y="122.52" width="0.3" height="49.28" fill="#fff" opacity="0.25"/>
<rect x="643.99" y="118.04" width="0.3" height="53.76" fill="#fff" opacity="0.25"/>
<rect x="645.38" y="113.56" width="0.3" height="58.24" fill="#fff" opacity="0.25"/>
<rect x="646.78" y="109.08" width="0.3" height="62.72" fill="#fff" opacity="0.25"/>
<rect x="648.17" y="91.16" width="0.3" height="80.64" fill="#fff" opacity="0.25"/>
<rect x="649.57" y="91.16" width="0.3" height="80.64" fill="#fff" opacity="0.25"/>
<rect x="650.96" y="88.92" width="0.3" height="82.88" fill="#fff" opacity="0.25"/>
<rect x="652.36" y="86.68" width="0.3" height="85.12" fill="#fff" opacity="0.25"/>
<rect x="653.75" y="66.52" width="0.3" height="105.28" fill="#fff" opacity="0.25"/>
<rect x="655.14" y="62.04" width="0.3" height="109.76" fill="#fff" opacity="0.25"/>
<rect x="656.54" y="44.12" width="0.3" height="127.68" fill="#fff" opacity="0.25"/>
<rect x="657.93" y="28.44" width="0.3" height="143.36" fill="#fff" opacity="0.25"/>
<rect x="659.33" y="28.44" width="0.3" height="143.36" fill="#fff" opacity="0.25"/>
<rect x="660.72" y="28.44" width="0.3" height="143.36" fill="#fff" opacity="0.25"/>
<rect x="662.11" y="55.32" width="0.3" height="116.48" fill="#fff" opacity="0.25"/>
<rect x="663.51" y="118.04" width="0.3" height="53.76" fill="#fff" opacity="0.25"/>
<rect x="664.90" y="142.68" width="0.3" height="29.12" fill="#fff" opacity="0.25"/>
<rect x="666.30" y="142.68" width="0.3" height="29.12" fill="#fff" opacity="0.25"/>
<rect x="667.69" y="144.92" width="0.3" height="26.88" fill="#fff" opacity="0.25"/>
<rect x="669.08" y="151.64" width="0.3" height="20.16" fill="#fff" opacity="0.25"/>
<rect x="670.48" y="158.36" width="0.3" height="13.44" fill="#fff" opacity="0.25"/>
<rect x="671.87" y="162.84" width="0.3" height="8.96" fill="#fff" opacity="0.25"/>
<rect x="673.26" y="167.32" width="0.3" height="4.48" fill="#fff" opacity="0.25"/>
<line x1="579" y1="21" x2="579" y2="171.8" stroke="#e8303a" stroke-width="1.3" stroke-dasharray="4,1.8" stroke-dashoffset="2.8"/>
<rect x="534.5" y="27.1" width="11.3" height="3.1" fill="#2e3377"/>
<text x="549.4" y="31.0" font-size="6.6" fill="#333">SS</text>
<rect x="534.5" y="35.1" width="11.3" height="3.1" fill="#1f78c1"/>
<text x="549.4" y="39.0" font-size="6.6" fill="#333">SE</text>
<rect x="534.5" y="43.1" width="11.3" height="3.1" fill="#a11d2e"/>
<text x="549.4" y="47.0" font-size="6.6" fill="#333">NC</text>
<rect x="534.5" y="51.0" width="11.3" height="3.1" fill="#1b8a45"/>
<text x="549.4" y="54.9" font-size="6.6" fill="#333">SW</text>
<rect x="534.5" y="59.0" width="11.3" height="3.1" fill="#f6d21c"/>
<text x="549.4" y="62.9" font-size="6.6" fill="#333">NW</text>
<rect x="534.5" y="67.0" width="11.3" height="3.1" fill="#ee6b33"/>
<text x="549.4" y="70.9" font-size="6.6" fill="#333">NE</text>
<text x="313" y="224" font-size="10.5" font-weight="bold" fill="#161616">d</text>
<polygon points="380.2,234.3 443.8,234.3 443.8,396.3 380.2,396.3" fill="#ecf5fc"/>
<polygon points="396.4,234.3 404.3,234.3 400.8,274.2" fill="#ffffff"/>
<polygon points="431.5,298 441.8,295 440.6,334.6 436.2,341.7 431.9,322.7" fill="#fbfcfd"/>
<polygon points="430.3,396.3 431.9,322.7 436.2,341.7 440.6,334.6 442.4,300 443.8,300 443.8,396.3" fill="#cfd4e0"/>
<polygon points="380.2,315.3 384.1,316 387.7,323.6 391.2,329.4 393.6,330.6 395.9,333 400.6,347.1 403,357.7 407.7,368.3 412.4,377.7 415.9,387.2 417.5,396.3 380.2,396.3" fill="#efebe0"/>
<polygon points="443.8,234.3 632,234.3 632,396.3 443.8,396.3" fill="#fdf3e6"/>
<polygon points="495.3,234.3 507.5,234.3 503.5,300 500.5,316 497.5,316 496,300" fill="#ffffff"/>
<polygon points="443.8,234.3 495.3,234.3 495.3,300 490.4,300 487.1,274.5 483,264.7 479.7,256.5 477.3,234.5 473.1,234.5 471.5,237 469,254.9 465,259 462.5,271.2 459.2,300 452,290 443.8,286" fill="#d2d2ce"/>
<polygon points="459.2,300 462.5,271.2 465,259 469,254.9 471.5,237 473.1,234.5 477.3,234.5 479.7,256.5 483,264.7 487.1,274.5 490.4,300 493,328 462,328" fill="#efebdf"/>
<polygon points="443.8,286 452,290 459.2,300 457,326 443.8,330" fill="#e3e2db"/>
<polygon points="459,310 462,300 466,328 458,328" fill="#e6e4dc"/>
<polygon points="483.6,300 497,310 500,396.3 483.6,396.3" fill="#efece3"/>
<polygon points="515,315.7 591,315.7 591,396.3 515,396.3" fill="#efece3"/>
<polygon points="521,396.3 525.4,298.7 530.7,396.3" fill="#efece3"/>
<polygon points="534,396.3 536,234.3 543.4,234.3 547.7,396.3" fill="#efece3"/>
<polygon points="579.4,234.3 592,234.3 592,396.3 579.4,396.3" fill="#eeece3"/>
<polygon points="592,234.3 602,234.3 602,396.3 592,396.3" fill="#dfe5e0"/>
<polygon points="602,234.3 618,234.3 618,295.6 602,295.6" fill="#f1eee4"/>
<polygon points="602,295.6 618,295.6 630,300 630,396.3 602,396.3" fill="#dce3de"/>
<polygon points="618,234.3 630,234.3 630,316 618,314.5" fill="#d3d4d0"/>
<polygon points="620,240 628,240 628,318 621,316" fill="#c9cac8"/>
<polygon points="628,234.3 636,234.3 636,341 628,341" fill="#faf0e1"/>
<polygon points="636,234.3 640,234.3 640,396.3 636,396.3" fill="#efeee6"/>
<polygon points="630,335 645,335 645,396.3 630,396.3" fill="#e6e5de"/>
<polygon points="630.5,396.3 631,360 634.8,341.7 640,370 646,396.3" fill="#c9ccce"/>
<polygon points="640,234.3 645,234.3 645,396.3 640,396.3" fill="#e6f1f9"/>
<polygon points="645,234.3 657,234.3 658,396.3 645,396.3" fill="#d6e8f4"/>
<polygon points="648.5,234.3 654.5,234.3 651.5,288" fill="#e2eef8"/>
<polygon points="620,296 628,300 628,318 621,316" fill="#c6cacd"/>
<polyline points="380,395.3 420,395.6 500,395.8 588.4,395.3 591.7,296 598.2,323 601.4,336 604.7,354.4 608,362 612.3,356.5 615.5,359.8 619.9,360.2 623.2,361.9 628.1,370 631.3,367.6 635.9,373.3 639.8,350.4 643.6,365.1 647.7,357.5 651.8,370 656.7,380.7 659.9,393.7" fill="none" stroke="#1a9bc8" stroke-width="1.15" stroke-linejoin="round"/>
<polyline points="379.9,343.5 395.7,368.4 400,373.2 404.4,337 408,350 412.6,377 416.3,379.7 420.2,379.7 424.5,369.5 428.2,374.5 430.8,376 431.9,257 435.8,263.5 439.6,262.2 443.7,264.7 451.9,299 456.3,279.4 458.9,299 463.8,312.3 468.1,290.6 472.5,292.8 475.7,297.1 480,283 484.4,343.5 503.9,394 511.4,394.5 515.8,383.6 520,384.7 524.4,383.6 532,385.8 536.3,379.7 548.4,382.5 558.1,385.8 569,388.4 575.5,390 579.4,293.2 585.2,298.2 588.4,299.3 592.8,305.8 601.4,327.3 608,337 612.3,341.4 615,346.3 620.7,349.6 626.4,359.4 631,368 635.5,252.7 639.8,250.6 643,248.4 648.4,238.2 655,237.1 660.3,236" fill="none" stroke="#6cb8e0" stroke-width="1.1" stroke-linejoin="round"/>
<polyline points="380,384 396,388 414,393.3 427,394 440.5,395.3 442.2,355.5 460.6,355.4 464.9,354 472.5,354 479,356.5 483.3,359.8 487.6,365.2 493,367.4 500.6,373.4 504.5,368.4 508.2,340.3 514.7,340.7 527.7,342.5 533,340.3 536.5,340.3 551.6,339.2 573.3,341.4 578.7,342.5 584.1,344.2 591.7,336 599.3,342.5 604.7,352.2 610,362 615.5,364.5 618.3,365.1 620.7,363.5 624,369.2 627.7,363.5 631.3,367.3 637.9,370.8 643.6,377.4 647.7,395.4 660,395.4" fill="none" stroke="#f4a82a" stroke-width="1.15" stroke-linejoin="round"/>
<polyline points="421,395.8 428.5,395.5 431.9,322.7 436.2,341.7 440.6,334.6 442.1,300 444.2,276.1 452.7,261.4 456.8,237.7 460.1,238.5 464.1,236.9 468.2,236.6 472.3,234.6 477.9,234.6 484.4,249.5 488.7,273.3 492,305.8 495.8,236.5 503.9,236.5 508.2,234.6 601.4,234.6 608,237.6 615.5,237.6 623.5,243 627.9,248.4 630.5,392.1 634.6,390.5 639.5,390.1 643.6,395.4" fill="none" stroke="#0e2d48" stroke-width="1.2" stroke-linejoin="round"/>
<rect x="366.3" y="234.3" width="307.3" height="162.0" fill="none" stroke="#888" stroke-width="0.7"/>
<line x1="363.1" y1="396.3" x2="366.3" y2="396.3" stroke="#777" stroke-width="0.6"/>
<text x="359" y="398.6" font-size="6.5" fill="#444" text-anchor="end">0</text>
<line x1="363.1" y1="363.9" x2="366.3" y2="363.9" stroke="#777" stroke-width="0.6"/>
<text x="359" y="366.2" font-size="6.5" fill="#444" text-anchor="end">20</text>
<line x1="363.1" y1="331.5" x2="366.3" y2="331.5" stroke="#777" stroke-width="0.6"/>
<text x="359" y="333.8" font-size="6.5" fill="#444" text-anchor="end">40</text>
<line x1="363.1" y1="299.1" x2="366.3" y2="299.1" stroke="#777" stroke-width="0.6"/>
<text x="359" y="301.4" font-size="6.5" fill="#444" text-anchor="end">60</text>
<line x1="363.1" y1="266.7" x2="366.3" y2="266.7" stroke="#777" stroke-width="0.6"/>
<text x="359" y="269.0" font-size="6.5" fill="#444" text-anchor="end">80</text>
<line x1="363.1" y1="234.3" x2="366.3" y2="234.3" stroke="#777" stroke-width="0.6"/>
<text x="359" y="236.6" font-size="6.5" fill="#444" text-anchor="end">100</text>
<line x1="373.7" y1="396.3" x2="373.7" y2="399.3" stroke="#777" stroke-width="0.6"/>
<text x="373.7" y="409.3" font-size="6.7" fill="#444" text-anchor="middle">2017</text>
<line x1="421.4" y1="396.3" x2="421.4" y2="399.3" stroke="#777" stroke-width="0.6"/>
<text x="421.4" y="409.3" font-size="6.7" fill="#444" text-anchor="middle">2018</text>
<line x1="469.2" y1="396.3" x2="469.2" y2="399.3" stroke="#777" stroke-width="0.6"/>
<text x="469.2" y="409.3" font-size="6.7" fill="#444" text-anchor="middle">2019</text>
<line x1="517.0" y1="396.3" x2="517.0" y2="399.3" stroke="#777" stroke-width="0.6"/>
<text x="517.0" y="409.3" font-size="6.7" fill="#444" text-anchor="middle">2020</text>
<line x1="564.7" y1="396.3" x2="564.7" y2="399.3" stroke="#777" stroke-width="0.6"/>
<text x="564.7" y="409.3" font-size="6.7" fill="#444" text-anchor="middle">2021</text>
<line x1="612.5" y1="396.3" x2="612.5" y2="399.3" stroke="#777" stroke-width="0.6"/>
<text x="612.5" y="409.3" font-size="6.7" fill="#444" text-anchor="middle">2022</text>
<line x1="660.2" y1="396.3" x2="660.2" y2="399.3" stroke="#777" stroke-width="0.6"/>
<text x="660.2" y="409.3" font-size="6.7" fill="#444" text-anchor="middle">2023</text>
<text transform="translate(342.2,315.8) rotate(-90)" font-size="6.67" fill="#444" text-anchor="middle">Percentage of lineages persisting</text>
<circle cx="419.6" cy="225.1" r="4.6" fill="#74bde6"/>
<text x="428.6" y="227.4" font-size="6.6" fill="#444">Bayelsa</text>
<circle cx="479.7" cy="225.1" r="4.6" fill="#1a9bc8"/>
<text x="489" y="227.4" font-size="6.6" fill="#444">Edo</text>
<circle cx="526.1" cy="225.1" r="4.6" fill="#0e2d48"/>
<text x="535.8" y="227.4" font-size="6.6" fill="#444">Delta</text>
<circle cx="575.3" cy="225.1" r="4.6" fill="#f5a623"/>
<text x="584.8" y="227.4" font-size="6.6" fill="#444">Akwa Ibom</text>
</svg>
</body></html>
